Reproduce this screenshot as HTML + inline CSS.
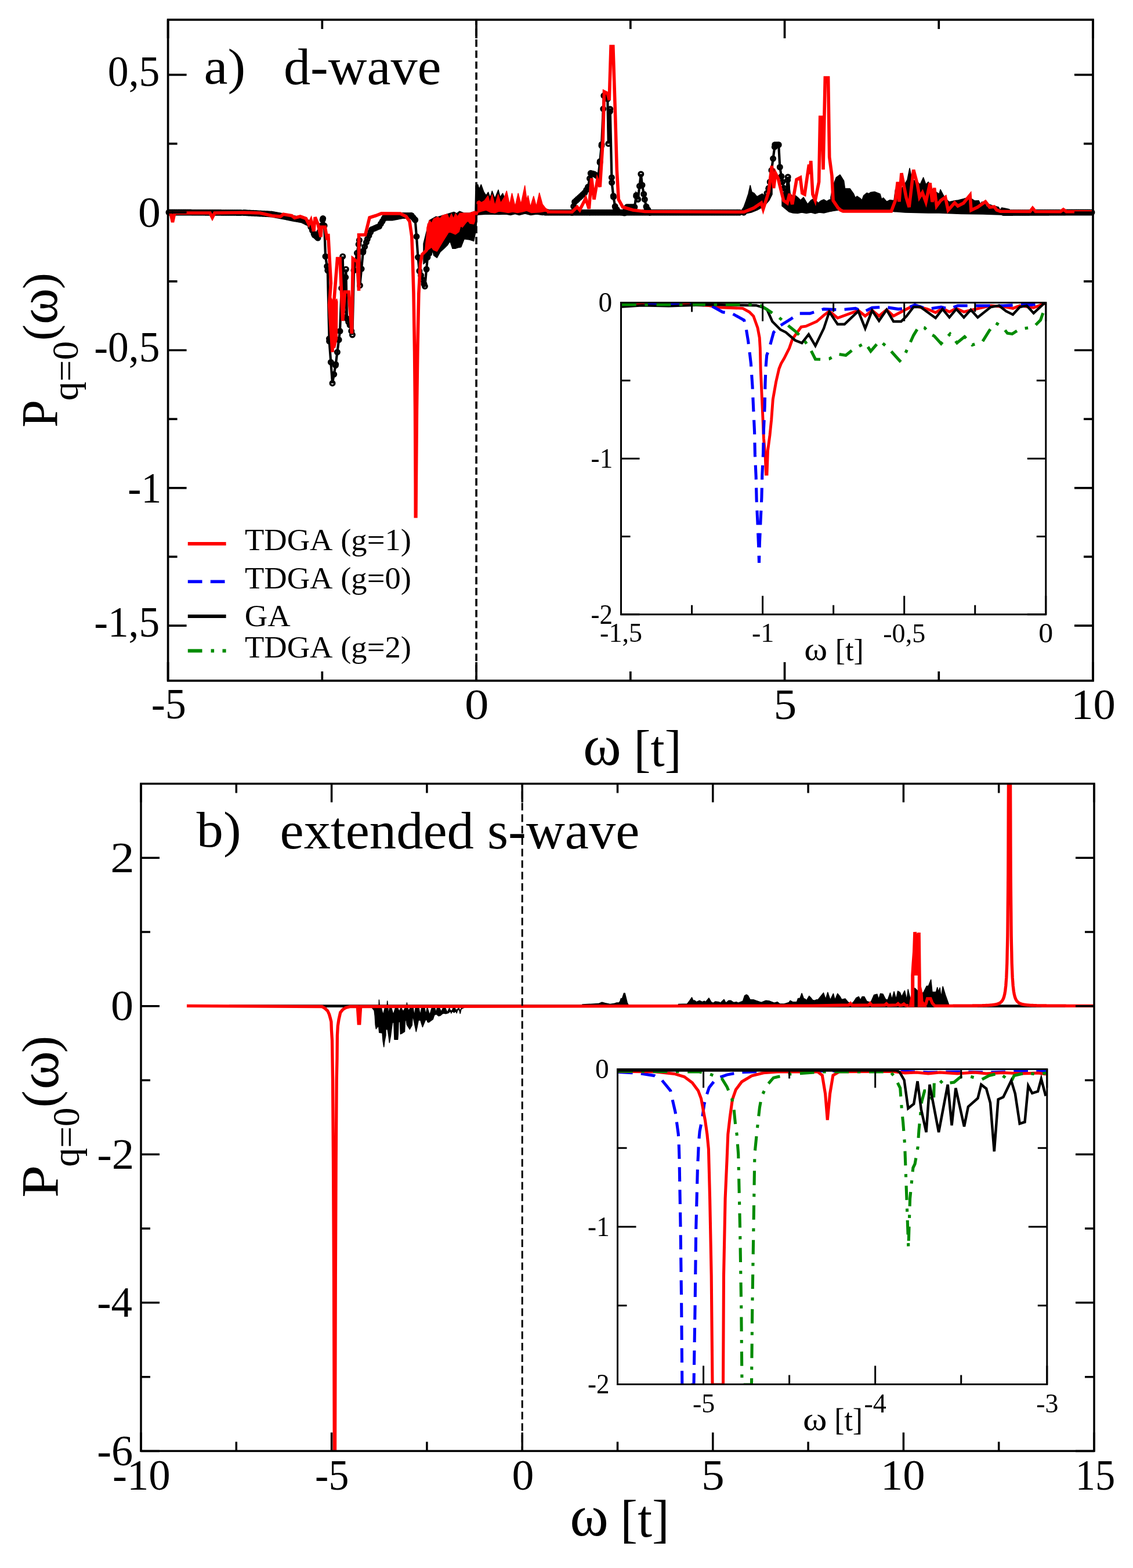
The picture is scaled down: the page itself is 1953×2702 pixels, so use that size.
<!DOCTYPE html>
<html><head><meta charset="utf-8"><title>plot</title>
<style>html,body{margin:0;padding:0;background:#fff;width:1953px;height:2702px;overflow:hidden}</style>
</head><body>
<svg width="1953" height="2702" viewBox="0 0 1953 2702" style="position:absolute;left:0;top:0;font-family:'Liberation Serif','Times New Roman',serif;font-kerning:none"><rect width="100%" height="100%" fill="#fff"/><polyline points="291.0,366.0 420.0,366.5 468.0,369.0 484.0,372.0 503.8,376.0 520.8,379.0 533.0,385.0 542.0,405.0 548.0,410.0 556.7,376.6 559.1,388.8 561.0,441.9 564.8,466.0 567.6,588.0 573.0,660.4 578.7,628.0 586.0,570.6 590.7,441.9 593.0,540.0 596.3,464.0 598.0,549.0 603.0,560.0 607.4,577.0 610.0,466.0 619.4,414.0 620.4,491.9 626.0,432.6 633.3,412.0 640.7,395.6 653.7,390.0 663.0,375.0 676.0,375.0 694.4,371.5 709.3,371.5 715.7,379.0 718.0,407.6 720.5,443.3 722.9,467.0 732.4,493.3 737.0,443.3 742.0,431.4" fill="none" stroke="#000000" stroke-width="4.2" stroke-linejoin="miter" stroke-miterlimit="4" /><polyline points="940.0,366.2 1282.0,366.2" fill="none" stroke="#000000" stroke-width="4.2" stroke-linejoin="miter" stroke-miterlimit="4" /><polyline points="1730.0,366.5 1882.0,366.0" fill="none" stroke="#000000" stroke-width="4.2" stroke-linejoin="miter" stroke-miterlimit="4" /><polyline points="986.0,366.5 990.6,348.0 1008.0,332.0 1013.8,322.0 1018.2,298.6 1024.0,300.0 1031.3,304.4 1034.2,278.2 1037.1,249.0 1040.8,164.8 1047.3,170.6 1048.8,247.7 1051.7,188.0 1054.6,314.6 1057.5,339.4 1060.4,356.8 1066.2,365.5 1076.4,367.0 1080.8,356.8 1093.9,356.8 1096.8,336.4 1099.7,343.7 1104.8,300.0 1107.0,319.0 1111.3,343.7 1114.2,356.8 1120.0,366.5" fill="none" stroke="#000000" stroke-width="4.2" stroke-linejoin="miter" stroke-miterlimit="4" /><polyline points="1322.0,333.0 1325.0,324.2 1327.2,313.5 1335.8,249.5 1342.2,249.5 1344.3,288.0 1348.6,313.5 1355.0,339.2 1358.2,305.0 1361.4,345.6 1367.8,360.5" fill="none" stroke="#000000" stroke-width="4.2" stroke-linejoin="miter" stroke-miterlimit="4" /><path d="M287.2 366.0a3.8 3.8 0 1 0 7.6 0a3.8 3.8 0 1 0 -7.6 0M289.9 366.0a3.8 3.8 0 1 0 7.6 0a3.8 3.8 0 1 0 -7.6 0M292.6 366.0a3.8 3.8 0 1 0 7.6 0a3.8 3.8 0 1 0 -7.6 0M295.3 366.0a3.8 3.8 0 1 0 7.6 0a3.8 3.8 0 1 0 -7.6 0M298.0 366.0a3.8 3.8 0 1 0 7.6 0a3.8 3.8 0 1 0 -7.6 0M300.7 366.1a3.8 3.8 0 1 0 7.6 0a3.8 3.8 0 1 0 -7.6 0M303.4 366.1a3.8 3.8 0 1 0 7.6 0a3.8 3.8 0 1 0 -7.6 0M306.1 366.1a3.8 3.8 0 1 0 7.6 0a3.8 3.8 0 1 0 -7.6 0M308.8 366.1a3.8 3.8 0 1 0 7.6 0a3.8 3.8 0 1 0 -7.6 0M311.5 366.1a3.8 3.8 0 1 0 7.6 0a3.8 3.8 0 1 0 -7.6 0M314.2 366.1a3.8 3.8 0 1 0 7.6 0a3.8 3.8 0 1 0 -7.6 0M316.9 366.1a3.8 3.8 0 1 0 7.6 0a3.8 3.8 0 1 0 -7.6 0M319.6 366.1a3.8 3.8 0 1 0 7.6 0a3.8 3.8 0 1 0 -7.6 0M322.3 366.1a3.8 3.8 0 1 0 7.6 0a3.8 3.8 0 1 0 -7.6 0M325.0 366.1a3.8 3.8 0 1 0 7.6 0a3.8 3.8 0 1 0 -7.6 0M327.7 366.2a3.8 3.8 0 1 0 7.6 0a3.8 3.8 0 1 0 -7.6 0M330.4 366.2a3.8 3.8 0 1 0 7.6 0a3.8 3.8 0 1 0 -7.6 0M333.1 366.2a3.8 3.8 0 1 0 7.6 0a3.8 3.8 0 1 0 -7.6 0M335.8 366.2a3.8 3.8 0 1 0 7.6 0a3.8 3.8 0 1 0 -7.6 0M338.5 366.2a3.8 3.8 0 1 0 7.6 0a3.8 3.8 0 1 0 -7.6 0M341.2 366.2a3.8 3.8 0 1 0 7.6 0a3.8 3.8 0 1 0 -7.6 0M343.9 366.2a3.8 3.8 0 1 0 7.6 0a3.8 3.8 0 1 0 -7.6 0M346.6 366.2a3.8 3.8 0 1 0 7.6 0a3.8 3.8 0 1 0 -7.6 0M349.3 366.2a3.8 3.8 0 1 0 7.6 0a3.8 3.8 0 1 0 -7.6 0M352.0 366.3a3.8 3.8 0 1 0 7.6 0a3.8 3.8 0 1 0 -7.6 0M354.7 366.3a3.8 3.8 0 1 0 7.6 0a3.8 3.8 0 1 0 -7.6 0M357.4 366.3a3.8 3.8 0 1 0 7.6 0a3.8 3.8 0 1 0 -7.6 0M360.1 366.3a3.8 3.8 0 1 0 7.6 0a3.8 3.8 0 1 0 -7.6 0M362.8 366.3a3.8 3.8 0 1 0 7.6 0a3.8 3.8 0 1 0 -7.6 0M365.5 366.3a3.8 3.8 0 1 0 7.6 0a3.8 3.8 0 1 0 -7.6 0M368.2 366.3a3.8 3.8 0 1 0 7.6 0a3.8 3.8 0 1 0 -7.6 0M370.9 366.3a3.8 3.8 0 1 0 7.6 0a3.8 3.8 0 1 0 -7.6 0M373.6 366.3a3.8 3.8 0 1 0 7.6 0a3.8 3.8 0 1 0 -7.6 0M376.3 366.3a3.8 3.8 0 1 0 7.6 0a3.8 3.8 0 1 0 -7.6 0M379.0 366.4a3.8 3.8 0 1 0 7.6 0a3.8 3.8 0 1 0 -7.6 0M381.7 366.4a3.8 3.8 0 1 0 7.6 0a3.8 3.8 0 1 0 -7.6 0M384.4 366.4a3.8 3.8 0 1 0 7.6 0a3.8 3.8 0 1 0 -7.6 0M387.1 366.4a3.8 3.8 0 1 0 7.6 0a3.8 3.8 0 1 0 -7.6 0M389.8 366.4a3.8 3.8 0 1 0 7.6 0a3.8 3.8 0 1 0 -7.6 0M392.5 366.4a3.8 3.8 0 1 0 7.6 0a3.8 3.8 0 1 0 -7.6 0M395.2 366.4a3.8 3.8 0 1 0 7.6 0a3.8 3.8 0 1 0 -7.6 0M397.9 366.4a3.8 3.8 0 1 0 7.6 0a3.8 3.8 0 1 0 -7.6 0M400.6 366.4a3.8 3.8 0 1 0 7.6 0a3.8 3.8 0 1 0 -7.6 0M403.3 366.4a3.8 3.8 0 1 0 7.6 0a3.8 3.8 0 1 0 -7.6 0M406.0 366.5a3.8 3.8 0 1 0 7.6 0a3.8 3.8 0 1 0 -7.6 0M408.7 366.5a3.8 3.8 0 1 0 7.6 0a3.8 3.8 0 1 0 -7.6 0M411.4 366.5a3.8 3.8 0 1 0 7.6 0a3.8 3.8 0 1 0 -7.6 0M416.2 366.5a3.8 3.8 0 1 0 7.6 0a3.8 3.8 0 1 0 -7.6 0M418.9 366.6a3.8 3.8 0 1 0 7.6 0a3.8 3.8 0 1 0 -7.6 0M421.6 366.8a3.8 3.8 0 1 0 7.6 0a3.8 3.8 0 1 0 -7.6 0M424.3 366.9a3.8 3.8 0 1 0 7.6 0a3.8 3.8 0 1 0 -7.6 0M427.0 367.1a3.8 3.8 0 1 0 7.6 0a3.8 3.8 0 1 0 -7.6 0M429.7 367.2a3.8 3.8 0 1 0 7.6 0a3.8 3.8 0 1 0 -7.6 0M432.4 367.3a3.8 3.8 0 1 0 7.6 0a3.8 3.8 0 1 0 -7.6 0M435.1 367.5a3.8 3.8 0 1 0 7.6 0a3.8 3.8 0 1 0 -7.6 0M437.8 367.6a3.8 3.8 0 1 0 7.6 0a3.8 3.8 0 1 0 -7.6 0M440.5 367.8a3.8 3.8 0 1 0 7.6 0a3.8 3.8 0 1 0 -7.6 0M443.2 367.9a3.8 3.8 0 1 0 7.6 0a3.8 3.8 0 1 0 -7.6 0M445.9 368.0a3.8 3.8 0 1 0 7.6 0a3.8 3.8 0 1 0 -7.6 0M448.6 368.2a3.8 3.8 0 1 0 7.6 0a3.8 3.8 0 1 0 -7.6 0M451.3 368.3a3.8 3.8 0 1 0 7.6 0a3.8 3.8 0 1 0 -7.6 0M454.0 368.5a3.8 3.8 0 1 0 7.6 0a3.8 3.8 0 1 0 -7.6 0M456.7 368.6a3.8 3.8 0 1 0 7.6 0a3.8 3.8 0 1 0 -7.6 0M459.4 368.8a3.8 3.8 0 1 0 7.6 0a3.8 3.8 0 1 0 -7.6 0M462.1 368.9a3.8 3.8 0 1 0 7.6 0a3.8 3.8 0 1 0 -7.6 0M464.2 369.0a3.8 3.8 0 1 0 7.6 0a3.8 3.8 0 1 0 -7.6 0M466.9 369.5a3.8 3.8 0 1 0 7.6 0a3.8 3.8 0 1 0 -7.6 0M469.6 370.0a3.8 3.8 0 1 0 7.6 0a3.8 3.8 0 1 0 -7.6 0M472.3 370.5a3.8 3.8 0 1 0 7.6 0a3.8 3.8 0 1 0 -7.6 0M475.0 371.0a3.8 3.8 0 1 0 7.6 0a3.8 3.8 0 1 0 -7.6 0M477.7 371.5a3.8 3.8 0 1 0 7.6 0a3.8 3.8 0 1 0 -7.6 0M480.2 372.0a3.8 3.8 0 1 0 7.6 0a3.8 3.8 0 1 0 -7.6 0M482.9 372.5a3.8 3.8 0 1 0 7.6 0a3.8 3.8 0 1 0 -7.6 0M485.6 373.1a3.8 3.8 0 1 0 7.6 0a3.8 3.8 0 1 0 -7.6 0M488.3 373.6a3.8 3.8 0 1 0 7.6 0a3.8 3.8 0 1 0 -7.6 0M491.0 374.2a3.8 3.8 0 1 0 7.6 0a3.8 3.8 0 1 0 -7.6 0M493.7 374.7a3.8 3.8 0 1 0 7.6 0a3.8 3.8 0 1 0 -7.6 0M496.4 375.3a3.8 3.8 0 1 0 7.6 0a3.8 3.8 0 1 0 -7.6 0M499.1 375.8a3.8 3.8 0 1 0 7.6 0a3.8 3.8 0 1 0 -7.6 0M500.0 376.0a3.8 3.8 0 1 0 7.6 0a3.8 3.8 0 1 0 -7.6 0M502.7 376.5a3.8 3.8 0 1 0 7.6 0a3.8 3.8 0 1 0 -7.6 0M505.4 377.0a3.8 3.8 0 1 0 7.6 0a3.8 3.8 0 1 0 -7.6 0M508.1 377.4a3.8 3.8 0 1 0 7.6 0a3.8 3.8 0 1 0 -7.6 0M510.8 377.9a3.8 3.8 0 1 0 7.6 0a3.8 3.8 0 1 0 -7.6 0M513.5 378.4a3.8 3.8 0 1 0 7.6 0a3.8 3.8 0 1 0 -7.6 0M516.2 378.9a3.8 3.8 0 1 0 7.6 0a3.8 3.8 0 1 0 -7.6 0M517.0 379.0a3.8 3.8 0 1 0 7.6 0a3.8 3.8 0 1 0 -7.6 0M519.7 380.3a3.8 3.8 0 1 0 7.6 0a3.8 3.8 0 1 0 -7.6 0M522.4 381.7a3.8 3.8 0 1 0 7.6 0a3.8 3.8 0 1 0 -7.6 0M525.1 383.0a3.8 3.8 0 1 0 7.6 0a3.8 3.8 0 1 0 -7.6 0M527.8 384.3a3.8 3.8 0 1 0 7.6 0a3.8 3.8 0 1 0 -7.6 0M529.2 385.0a3.8 3.8 0 1 0 7.6 0a3.8 3.8 0 1 0 -7.6 0M531.9 391.0a3.8 3.8 0 1 0 7.6 0a3.8 3.8 0 1 0 -7.6 0M534.6 397.0a3.8 3.8 0 1 0 7.6 0a3.8 3.8 0 1 0 -7.6 0M537.3 403.0a3.8 3.8 0 1 0 7.6 0a3.8 3.8 0 1 0 -7.6 0M538.2 405.0a3.8 3.8 0 1 0 7.6 0a3.8 3.8 0 1 0 -7.6 0M540.9 407.2a3.8 3.8 0 1 0 7.6 0a3.8 3.8 0 1 0 -7.6 0M543.6 409.5a3.8 3.8 0 1 0 7.6 0a3.8 3.8 0 1 0 -7.6 0M544.2 410.0a3.8 3.8 0 1 0 7.6 0a3.8 3.8 0 1 0 -7.6 0M546.9 399.6a3.8 3.8 0 1 0 7.6 0a3.8 3.8 0 1 0 -7.6 0M549.6 389.3a3.8 3.8 0 1 0 7.6 0a3.8 3.8 0 1 0 -7.6 0M552.3 378.9a3.8 3.8 0 1 0 7.6 0a3.8 3.8 0 1 0 -7.6 0M552.9 376.6a3.8 3.8 0 1 0 7.6 0a3.8 3.8 0 1 0 -7.6 0M555.3 388.8a3.8 3.8 0 1 0 7.6 0a3.8 3.8 0 1 0 -7.6 0M557.2 441.9a3.8 3.8 0 1 0 7.6 0a3.8 3.8 0 1 0 -7.6 0M559.9 459.0a3.8 3.8 0 1 0 7.6 0a3.8 3.8 0 1 0 -7.6 0M561.0 466.0a3.8 3.8 0 1 0 7.6 0a3.8 3.8 0 1 0 -7.6 0M563.7 583.6a3.8 3.8 0 1 0 7.6 0a3.8 3.8 0 1 0 -7.6 0M563.8 588.0a3.8 3.8 0 1 0 7.6 0a3.8 3.8 0 1 0 -7.6 0M566.5 624.2a3.8 3.8 0 1 0 7.6 0a3.8 3.8 0 1 0 -7.6 0M569.2 660.4a3.8 3.8 0 1 0 7.6 0a3.8 3.8 0 1 0 -7.6 0M571.9 645.1a3.8 3.8 0 1 0 7.6 0a3.8 3.8 0 1 0 -7.6 0M574.6 629.7a3.8 3.8 0 1 0 7.6 0a3.8 3.8 0 1 0 -7.6 0M574.9 628.0a3.8 3.8 0 1 0 7.6 0a3.8 3.8 0 1 0 -7.6 0M577.6 606.8a3.8 3.8 0 1 0 7.6 0a3.8 3.8 0 1 0 -7.6 0M580.3 585.5a3.8 3.8 0 1 0 7.6 0a3.8 3.8 0 1 0 -7.6 0M582.2 570.6a3.8 3.8 0 1 0 7.6 0a3.8 3.8 0 1 0 -7.6 0M584.9 496.7a3.8 3.8 0 1 0 7.6 0a3.8 3.8 0 1 0 -7.6 0M586.9 441.9a3.8 3.8 0 1 0 7.6 0a3.8 3.8 0 1 0 -7.6 0M589.2 540.0a3.8 3.8 0 1 0 7.6 0a3.8 3.8 0 1 0 -7.6 0M591.9 477.8a3.8 3.8 0 1 0 7.6 0a3.8 3.8 0 1 0 -7.6 0M592.5 464.0a3.8 3.8 0 1 0 7.6 0a3.8 3.8 0 1 0 -7.6 0M594.2 549.0a3.8 3.8 0 1 0 7.6 0a3.8 3.8 0 1 0 -7.6 0M596.9 554.9a3.8 3.8 0 1 0 7.6 0a3.8 3.8 0 1 0 -7.6 0M599.2 560.0a3.8 3.8 0 1 0 7.6 0a3.8 3.8 0 1 0 -7.6 0M601.9 570.4a3.8 3.8 0 1 0 7.6 0a3.8 3.8 0 1 0 -7.6 0M603.6 577.0a3.8 3.8 0 1 0 7.6 0a3.8 3.8 0 1 0 -7.6 0M606.2 466.0a3.8 3.8 0 1 0 7.6 0a3.8 3.8 0 1 0 -7.6 0M608.9 451.1a3.8 3.8 0 1 0 7.6 0a3.8 3.8 0 1 0 -7.6 0M611.6 436.1a3.8 3.8 0 1 0 7.6 0a3.8 3.8 0 1 0 -7.6 0M614.3 421.2a3.8 3.8 0 1 0 7.6 0a3.8 3.8 0 1 0 -7.6 0M615.6 414.0a3.8 3.8 0 1 0 7.6 0a3.8 3.8 0 1 0 -7.6 0M616.6 491.9a3.8 3.8 0 1 0 7.6 0a3.8 3.8 0 1 0 -7.6 0M619.3 463.3a3.8 3.8 0 1 0 7.6 0a3.8 3.8 0 1 0 -7.6 0M622.0 434.7a3.8 3.8 0 1 0 7.6 0a3.8 3.8 0 1 0 -7.6 0M622.2 432.6a3.8 3.8 0 1 0 7.6 0a3.8 3.8 0 1 0 -7.6 0M624.9 425.0a3.8 3.8 0 1 0 7.6 0a3.8 3.8 0 1 0 -7.6 0M627.6 417.4a3.8 3.8 0 1 0 7.6 0a3.8 3.8 0 1 0 -7.6 0M629.5 412.0a3.8 3.8 0 1 0 7.6 0a3.8 3.8 0 1 0 -7.6 0M632.2 406.0a3.8 3.8 0 1 0 7.6 0a3.8 3.8 0 1 0 -7.6 0M634.9 400.0a3.8 3.8 0 1 0 7.6 0a3.8 3.8 0 1 0 -7.6 0M636.9 395.6a3.8 3.8 0 1 0 7.6 0a3.8 3.8 0 1 0 -7.6 0M639.6 394.4a3.8 3.8 0 1 0 7.6 0a3.8 3.8 0 1 0 -7.6 0M642.3 393.3a3.8 3.8 0 1 0 7.6 0a3.8 3.8 0 1 0 -7.6 0M645.0 392.1a3.8 3.8 0 1 0 7.6 0a3.8 3.8 0 1 0 -7.6 0M647.7 390.9a3.8 3.8 0 1 0 7.6 0a3.8 3.8 0 1 0 -7.6 0M649.9 390.0a3.8 3.8 0 1 0 7.6 0a3.8 3.8 0 1 0 -7.6 0M652.6 385.6a3.8 3.8 0 1 0 7.6 0a3.8 3.8 0 1 0 -7.6 0M655.3 381.3a3.8 3.8 0 1 0 7.6 0a3.8 3.8 0 1 0 -7.6 0M658.0 376.9a3.8 3.8 0 1 0 7.6 0a3.8 3.8 0 1 0 -7.6 0M659.2 375.0a3.8 3.8 0 1 0 7.6 0a3.8 3.8 0 1 0 -7.6 0M661.9 375.0a3.8 3.8 0 1 0 7.6 0a3.8 3.8 0 1 0 -7.6 0M664.6 375.0a3.8 3.8 0 1 0 7.6 0a3.8 3.8 0 1 0 -7.6 0M667.3 375.0a3.8 3.8 0 1 0 7.6 0a3.8 3.8 0 1 0 -7.6 0M670.0 375.0a3.8 3.8 0 1 0 7.6 0a3.8 3.8 0 1 0 -7.6 0M672.2 375.0a3.8 3.8 0 1 0 7.6 0a3.8 3.8 0 1 0 -7.6 0M674.9 374.5a3.8 3.8 0 1 0 7.6 0a3.8 3.8 0 1 0 -7.6 0M677.6 374.0a3.8 3.8 0 1 0 7.6 0a3.8 3.8 0 1 0 -7.6 0M680.3 373.5a3.8 3.8 0 1 0 7.6 0a3.8 3.8 0 1 0 -7.6 0M683.0 372.9a3.8 3.8 0 1 0 7.6 0a3.8 3.8 0 1 0 -7.6 0M685.7 372.4a3.8 3.8 0 1 0 7.6 0a3.8 3.8 0 1 0 -7.6 0M688.4 371.9a3.8 3.8 0 1 0 7.6 0a3.8 3.8 0 1 0 -7.6 0M690.6 371.5a3.8 3.8 0 1 0 7.6 0a3.8 3.8 0 1 0 -7.6 0M693.3 371.5a3.8 3.8 0 1 0 7.6 0a3.8 3.8 0 1 0 -7.6 0M696.0 371.5a3.8 3.8 0 1 0 7.6 0a3.8 3.8 0 1 0 -7.6 0M698.7 371.5a3.8 3.8 0 1 0 7.6 0a3.8 3.8 0 1 0 -7.6 0M701.4 371.5a3.8 3.8 0 1 0 7.6 0a3.8 3.8 0 1 0 -7.6 0M704.1 371.5a3.8 3.8 0 1 0 7.6 0a3.8 3.8 0 1 0 -7.6 0M705.5 371.5a3.8 3.8 0 1 0 7.6 0a3.8 3.8 0 1 0 -7.6 0M708.2 374.7a3.8 3.8 0 1 0 7.6 0a3.8 3.8 0 1 0 -7.6 0M710.9 377.8a3.8 3.8 0 1 0 7.6 0a3.8 3.8 0 1 0 -7.6 0M711.9 379.0a3.8 3.8 0 1 0 7.6 0a3.8 3.8 0 1 0 -7.6 0M714.2 407.6a3.8 3.8 0 1 0 7.6 0a3.8 3.8 0 1 0 -7.6 0M716.7 443.3a3.8 3.8 0 1 0 7.6 0a3.8 3.8 0 1 0 -7.6 0M719.1 467.0a3.8 3.8 0 1 0 7.6 0a3.8 3.8 0 1 0 -7.6 0M721.8 474.5a3.8 3.8 0 1 0 7.6 0a3.8 3.8 0 1 0 -7.6 0M724.5 481.9a3.8 3.8 0 1 0 7.6 0a3.8 3.8 0 1 0 -7.6 0M727.2 489.4a3.8 3.8 0 1 0 7.6 0a3.8 3.8 0 1 0 -7.6 0M728.6 493.3a3.8 3.8 0 1 0 7.6 0a3.8 3.8 0 1 0 -7.6 0M731.3 464.0a3.8 3.8 0 1 0 7.6 0a3.8 3.8 0 1 0 -7.6 0M733.2 443.3a3.8 3.8 0 1 0 7.6 0a3.8 3.8 0 1 0 -7.6 0M735.9 436.9a3.8 3.8 0 1 0 7.6 0a3.8 3.8 0 1 0 -7.6 0M738.2 431.4a3.8 3.8 0 1 0 7.6 0a3.8 3.8 0 1 0 -7.6 0M936.2 366.2a3.8 3.8 0 1 0 7.6 0a3.8 3.8 0 1 0 -7.6 0M938.9 366.2a3.8 3.8 0 1 0 7.6 0a3.8 3.8 0 1 0 -7.6 0M941.6 366.2a3.8 3.8 0 1 0 7.6 0a3.8 3.8 0 1 0 -7.6 0M944.3 366.2a3.8 3.8 0 1 0 7.6 0a3.8 3.8 0 1 0 -7.6 0M947.0 366.2a3.8 3.8 0 1 0 7.6 0a3.8 3.8 0 1 0 -7.6 0M949.7 366.2a3.8 3.8 0 1 0 7.6 0a3.8 3.8 0 1 0 -7.6 0M952.4 366.2a3.8 3.8 0 1 0 7.6 0a3.8 3.8 0 1 0 -7.6 0M955.1 366.2a3.8 3.8 0 1 0 7.6 0a3.8 3.8 0 1 0 -7.6 0M957.8 366.2a3.8 3.8 0 1 0 7.6 0a3.8 3.8 0 1 0 -7.6 0M960.5 366.2a3.8 3.8 0 1 0 7.6 0a3.8 3.8 0 1 0 -7.6 0M963.2 366.2a3.8 3.8 0 1 0 7.6 0a3.8 3.8 0 1 0 -7.6 0M965.9 366.2a3.8 3.8 0 1 0 7.6 0a3.8 3.8 0 1 0 -7.6 0M968.6 366.2a3.8 3.8 0 1 0 7.6 0a3.8 3.8 0 1 0 -7.6 0M971.3 366.2a3.8 3.8 0 1 0 7.6 0a3.8 3.8 0 1 0 -7.6 0M974.0 366.2a3.8 3.8 0 1 0 7.6 0a3.8 3.8 0 1 0 -7.6 0M976.7 366.2a3.8 3.8 0 1 0 7.6 0a3.8 3.8 0 1 0 -7.6 0M979.4 366.2a3.8 3.8 0 1 0 7.6 0a3.8 3.8 0 1 0 -7.6 0M982.1 366.2a3.8 3.8 0 1 0 7.6 0a3.8 3.8 0 1 0 -7.6 0M984.8 366.2a3.8 3.8 0 1 0 7.6 0a3.8 3.8 0 1 0 -7.6 0M987.5 366.2a3.8 3.8 0 1 0 7.6 0a3.8 3.8 0 1 0 -7.6 0M990.2 366.2a3.8 3.8 0 1 0 7.6 0a3.8 3.8 0 1 0 -7.6 0M992.9 366.2a3.8 3.8 0 1 0 7.6 0a3.8 3.8 0 1 0 -7.6 0M995.6 366.2a3.8 3.8 0 1 0 7.6 0a3.8 3.8 0 1 0 -7.6 0M998.3 366.2a3.8 3.8 0 1 0 7.6 0a3.8 3.8 0 1 0 -7.6 0M1001.0 366.2a3.8 3.8 0 1 0 7.6 0a3.8 3.8 0 1 0 -7.6 0M1003.7 366.2a3.8 3.8 0 1 0 7.6 0a3.8 3.8 0 1 0 -7.6 0M1006.4 366.2a3.8 3.8 0 1 0 7.6 0a3.8 3.8 0 1 0 -7.6 0M1009.1 366.2a3.8 3.8 0 1 0 7.6 0a3.8 3.8 0 1 0 -7.6 0M1011.8 366.2a3.8 3.8 0 1 0 7.6 0a3.8 3.8 0 1 0 -7.6 0M1014.5 366.2a3.8 3.8 0 1 0 7.6 0a3.8 3.8 0 1 0 -7.6 0M1017.2 366.2a3.8 3.8 0 1 0 7.6 0a3.8 3.8 0 1 0 -7.6 0M1019.9 366.2a3.8 3.8 0 1 0 7.6 0a3.8 3.8 0 1 0 -7.6 0M1022.6 366.2a3.8 3.8 0 1 0 7.6 0a3.8 3.8 0 1 0 -7.6 0M1025.3 366.2a3.8 3.8 0 1 0 7.6 0a3.8 3.8 0 1 0 -7.6 0M1028.0 366.2a3.8 3.8 0 1 0 7.6 0a3.8 3.8 0 1 0 -7.6 0M1030.7 366.2a3.8 3.8 0 1 0 7.6 0a3.8 3.8 0 1 0 -7.6 0M1033.4 366.2a3.8 3.8 0 1 0 7.6 0a3.8 3.8 0 1 0 -7.6 0M1036.1 366.2a3.8 3.8 0 1 0 7.6 0a3.8 3.8 0 1 0 -7.6 0M1038.8 366.2a3.8 3.8 0 1 0 7.6 0a3.8 3.8 0 1 0 -7.6 0M1041.5 366.2a3.8 3.8 0 1 0 7.6 0a3.8 3.8 0 1 0 -7.6 0M1044.2 366.2a3.8 3.8 0 1 0 7.6 0a3.8 3.8 0 1 0 -7.6 0M1046.9 366.2a3.8 3.8 0 1 0 7.6 0a3.8 3.8 0 1 0 -7.6 0M1049.6 366.2a3.8 3.8 0 1 0 7.6 0a3.8 3.8 0 1 0 -7.6 0M1052.3 366.2a3.8 3.8 0 1 0 7.6 0a3.8 3.8 0 1 0 -7.6 0M1055.0 366.2a3.8 3.8 0 1 0 7.6 0a3.8 3.8 0 1 0 -7.6 0M1057.7 366.2a3.8 3.8 0 1 0 7.6 0a3.8 3.8 0 1 0 -7.6 0M1060.4 366.2a3.8 3.8 0 1 0 7.6 0a3.8 3.8 0 1 0 -7.6 0M1063.1 366.2a3.8 3.8 0 1 0 7.6 0a3.8 3.8 0 1 0 -7.6 0M1065.8 366.2a3.8 3.8 0 1 0 7.6 0a3.8 3.8 0 1 0 -7.6 0M1068.5 366.2a3.8 3.8 0 1 0 7.6 0a3.8 3.8 0 1 0 -7.6 0M1071.2 366.2a3.8 3.8 0 1 0 7.6 0a3.8 3.8 0 1 0 -7.6 0M1073.9 366.2a3.8 3.8 0 1 0 7.6 0a3.8 3.8 0 1 0 -7.6 0M1076.6 366.2a3.8 3.8 0 1 0 7.6 0a3.8 3.8 0 1 0 -7.6 0M1079.3 366.2a3.8 3.8 0 1 0 7.6 0a3.8 3.8 0 1 0 -7.6 0M1082.0 366.2a3.8 3.8 0 1 0 7.6 0a3.8 3.8 0 1 0 -7.6 0M1084.7 366.2a3.8 3.8 0 1 0 7.6 0a3.8 3.8 0 1 0 -7.6 0M1087.4 366.2a3.8 3.8 0 1 0 7.6 0a3.8 3.8 0 1 0 -7.6 0M1090.1 366.2a3.8 3.8 0 1 0 7.6 0a3.8 3.8 0 1 0 -7.6 0M1092.8 366.2a3.8 3.8 0 1 0 7.6 0a3.8 3.8 0 1 0 -7.6 0M1095.5 366.2a3.8 3.8 0 1 0 7.6 0a3.8 3.8 0 1 0 -7.6 0M1098.2 366.2a3.8 3.8 0 1 0 7.6 0a3.8 3.8 0 1 0 -7.6 0M1100.9 366.2a3.8 3.8 0 1 0 7.6 0a3.8 3.8 0 1 0 -7.6 0M1103.6 366.2a3.8 3.8 0 1 0 7.6 0a3.8 3.8 0 1 0 -7.6 0M1106.3 366.2a3.8 3.8 0 1 0 7.6 0a3.8 3.8 0 1 0 -7.6 0M1109.0 366.2a3.8 3.8 0 1 0 7.6 0a3.8 3.8 0 1 0 -7.6 0M1111.7 366.2a3.8 3.8 0 1 0 7.6 0a3.8 3.8 0 1 0 -7.6 0M1114.4 366.2a3.8 3.8 0 1 0 7.6 0a3.8 3.8 0 1 0 -7.6 0M1117.1 366.2a3.8 3.8 0 1 0 7.6 0a3.8 3.8 0 1 0 -7.6 0M1119.8 366.2a3.8 3.8 0 1 0 7.6 0a3.8 3.8 0 1 0 -7.6 0M1122.5 366.2a3.8 3.8 0 1 0 7.6 0a3.8 3.8 0 1 0 -7.6 0M1125.2 366.2a3.8 3.8 0 1 0 7.6 0a3.8 3.8 0 1 0 -7.6 0M1127.9 366.2a3.8 3.8 0 1 0 7.6 0a3.8 3.8 0 1 0 -7.6 0M1130.6 366.2a3.8 3.8 0 1 0 7.6 0a3.8 3.8 0 1 0 -7.6 0M1133.3 366.2a3.8 3.8 0 1 0 7.6 0a3.8 3.8 0 1 0 -7.6 0M1136.0 366.2a3.8 3.8 0 1 0 7.6 0a3.8 3.8 0 1 0 -7.6 0M1138.7 366.2a3.8 3.8 0 1 0 7.6 0a3.8 3.8 0 1 0 -7.6 0M1141.4 366.2a3.8 3.8 0 1 0 7.6 0a3.8 3.8 0 1 0 -7.6 0M1144.1 366.2a3.8 3.8 0 1 0 7.6 0a3.8 3.8 0 1 0 -7.6 0M1146.8 366.2a3.8 3.8 0 1 0 7.6 0a3.8 3.8 0 1 0 -7.6 0M1149.5 366.2a3.8 3.8 0 1 0 7.6 0a3.8 3.8 0 1 0 -7.6 0M1152.2 366.2a3.8 3.8 0 1 0 7.6 0a3.8 3.8 0 1 0 -7.6 0M1154.9 366.2a3.8 3.8 0 1 0 7.6 0a3.8 3.8 0 1 0 -7.6 0M1157.6 366.2a3.8 3.8 0 1 0 7.6 0a3.8 3.8 0 1 0 -7.6 0M1160.3 366.2a3.8 3.8 0 1 0 7.6 0a3.8 3.8 0 1 0 -7.6 0M1163.0 366.2a3.8 3.8 0 1 0 7.6 0a3.8 3.8 0 1 0 -7.6 0M1165.7 366.2a3.8 3.8 0 1 0 7.6 0a3.8 3.8 0 1 0 -7.6 0M1168.4 366.2a3.8 3.8 0 1 0 7.6 0a3.8 3.8 0 1 0 -7.6 0M1171.1 366.2a3.8 3.8 0 1 0 7.6 0a3.8 3.8 0 1 0 -7.6 0M1173.8 366.2a3.8 3.8 0 1 0 7.6 0a3.8 3.8 0 1 0 -7.6 0M1176.5 366.2a3.8 3.8 0 1 0 7.6 0a3.8 3.8 0 1 0 -7.6 0M1179.2 366.2a3.8 3.8 0 1 0 7.6 0a3.8 3.8 0 1 0 -7.6 0M1181.9 366.2a3.8 3.8 0 1 0 7.6 0a3.8 3.8 0 1 0 -7.6 0M1184.6 366.2a3.8 3.8 0 1 0 7.6 0a3.8 3.8 0 1 0 -7.6 0M1187.3 366.2a3.8 3.8 0 1 0 7.6 0a3.8 3.8 0 1 0 -7.6 0M1190.0 366.2a3.8 3.8 0 1 0 7.6 0a3.8 3.8 0 1 0 -7.6 0M1192.7 366.2a3.8 3.8 0 1 0 7.6 0a3.8 3.8 0 1 0 -7.6 0M1195.4 366.2a3.8 3.8 0 1 0 7.6 0a3.8 3.8 0 1 0 -7.6 0M1198.1 366.2a3.8 3.8 0 1 0 7.6 0a3.8 3.8 0 1 0 -7.6 0M1200.8 366.2a3.8 3.8 0 1 0 7.6 0a3.8 3.8 0 1 0 -7.6 0M1203.5 366.2a3.8 3.8 0 1 0 7.6 0a3.8 3.8 0 1 0 -7.6 0M1206.2 366.2a3.8 3.8 0 1 0 7.6 0a3.8 3.8 0 1 0 -7.6 0M1208.9 366.2a3.8 3.8 0 1 0 7.6 0a3.8 3.8 0 1 0 -7.6 0M1211.6 366.2a3.8 3.8 0 1 0 7.6 0a3.8 3.8 0 1 0 -7.6 0M1214.3 366.2a3.8 3.8 0 1 0 7.6 0a3.8 3.8 0 1 0 -7.6 0M1217.0 366.2a3.8 3.8 0 1 0 7.6 0a3.8 3.8 0 1 0 -7.6 0M1219.7 366.2a3.8 3.8 0 1 0 7.6 0a3.8 3.8 0 1 0 -7.6 0M1222.4 366.2a3.8 3.8 0 1 0 7.6 0a3.8 3.8 0 1 0 -7.6 0M1225.1 366.2a3.8 3.8 0 1 0 7.6 0a3.8 3.8 0 1 0 -7.6 0M1227.8 366.2a3.8 3.8 0 1 0 7.6 0a3.8 3.8 0 1 0 -7.6 0M1230.5 366.2a3.8 3.8 0 1 0 7.6 0a3.8 3.8 0 1 0 -7.6 0M1233.2 366.2a3.8 3.8 0 1 0 7.6 0a3.8 3.8 0 1 0 -7.6 0M1235.9 366.2a3.8 3.8 0 1 0 7.6 0a3.8 3.8 0 1 0 -7.6 0M1238.6 366.2a3.8 3.8 0 1 0 7.6 0a3.8 3.8 0 1 0 -7.6 0M1241.3 366.2a3.8 3.8 0 1 0 7.6 0a3.8 3.8 0 1 0 -7.6 0M1244.0 366.2a3.8 3.8 0 1 0 7.6 0a3.8 3.8 0 1 0 -7.6 0M1246.7 366.2a3.8 3.8 0 1 0 7.6 0a3.8 3.8 0 1 0 -7.6 0M1249.4 366.2a3.8 3.8 0 1 0 7.6 0a3.8 3.8 0 1 0 -7.6 0M1252.1 366.2a3.8 3.8 0 1 0 7.6 0a3.8 3.8 0 1 0 -7.6 0M1254.8 366.2a3.8 3.8 0 1 0 7.6 0a3.8 3.8 0 1 0 -7.6 0M1257.5 366.2a3.8 3.8 0 1 0 7.6 0a3.8 3.8 0 1 0 -7.6 0M1260.2 366.2a3.8 3.8 0 1 0 7.6 0a3.8 3.8 0 1 0 -7.6 0M1262.9 366.2a3.8 3.8 0 1 0 7.6 0a3.8 3.8 0 1 0 -7.6 0M1265.6 366.2a3.8 3.8 0 1 0 7.6 0a3.8 3.8 0 1 0 -7.6 0M1268.3 366.2a3.8 3.8 0 1 0 7.6 0a3.8 3.8 0 1 0 -7.6 0M1271.0 366.2a3.8 3.8 0 1 0 7.6 0a3.8 3.8 0 1 0 -7.6 0M1278.2 366.2a3.8 3.8 0 1 0 7.6 0a3.8 3.8 0 1 0 -7.6 0M1726.2 366.5a3.8 3.8 0 1 0 7.6 0a3.8 3.8 0 1 0 -7.6 0M1728.9 366.5a3.8 3.8 0 1 0 7.6 0a3.8 3.8 0 1 0 -7.6 0M1731.6 366.5a3.8 3.8 0 1 0 7.6 0a3.8 3.8 0 1 0 -7.6 0M1734.3 366.5a3.8 3.8 0 1 0 7.6 0a3.8 3.8 0 1 0 -7.6 0M1737.0 366.5a3.8 3.8 0 1 0 7.6 0a3.8 3.8 0 1 0 -7.6 0M1739.7 366.5a3.8 3.8 0 1 0 7.6 0a3.8 3.8 0 1 0 -7.6 0M1742.4 366.4a3.8 3.8 0 1 0 7.6 0a3.8 3.8 0 1 0 -7.6 0M1745.1 366.4a3.8 3.8 0 1 0 7.6 0a3.8 3.8 0 1 0 -7.6 0M1747.8 366.4a3.8 3.8 0 1 0 7.6 0a3.8 3.8 0 1 0 -7.6 0M1750.5 366.4a3.8 3.8 0 1 0 7.6 0a3.8 3.8 0 1 0 -7.6 0M1753.2 366.4a3.8 3.8 0 1 0 7.6 0a3.8 3.8 0 1 0 -7.6 0M1755.9 366.4a3.8 3.8 0 1 0 7.6 0a3.8 3.8 0 1 0 -7.6 0M1758.6 366.4a3.8 3.8 0 1 0 7.6 0a3.8 3.8 0 1 0 -7.6 0M1761.3 366.4a3.8 3.8 0 1 0 7.6 0a3.8 3.8 0 1 0 -7.6 0M1764.0 366.4a3.8 3.8 0 1 0 7.6 0a3.8 3.8 0 1 0 -7.6 0M1766.7 366.4a3.8 3.8 0 1 0 7.6 0a3.8 3.8 0 1 0 -7.6 0M1769.4 366.4a3.8 3.8 0 1 0 7.6 0a3.8 3.8 0 1 0 -7.6 0M1772.1 366.3a3.8 3.8 0 1 0 7.6 0a3.8 3.8 0 1 0 -7.6 0M1774.8 366.3a3.8 3.8 0 1 0 7.6 0a3.8 3.8 0 1 0 -7.6 0M1777.5 366.3a3.8 3.8 0 1 0 7.6 0a3.8 3.8 0 1 0 -7.6 0M1780.2 366.3a3.8 3.8 0 1 0 7.6 0a3.8 3.8 0 1 0 -7.6 0M1782.9 366.3a3.8 3.8 0 1 0 7.6 0a3.8 3.8 0 1 0 -7.6 0M1785.6 366.3a3.8 3.8 0 1 0 7.6 0a3.8 3.8 0 1 0 -7.6 0M1788.3 366.3a3.8 3.8 0 1 0 7.6 0a3.8 3.8 0 1 0 -7.6 0M1791.0 366.3a3.8 3.8 0 1 0 7.6 0a3.8 3.8 0 1 0 -7.6 0M1793.7 366.3a3.8 3.8 0 1 0 7.6 0a3.8 3.8 0 1 0 -7.6 0M1796.4 366.3a3.8 3.8 0 1 0 7.6 0a3.8 3.8 0 1 0 -7.6 0M1799.1 366.3a3.8 3.8 0 1 0 7.6 0a3.8 3.8 0 1 0 -7.6 0M1801.8 366.3a3.8 3.8 0 1 0 7.6 0a3.8 3.8 0 1 0 -7.6 0M1804.5 366.2a3.8 3.8 0 1 0 7.6 0a3.8 3.8 0 1 0 -7.6 0M1807.2 366.2a3.8 3.8 0 1 0 7.6 0a3.8 3.8 0 1 0 -7.6 0M1809.9 366.2a3.8 3.8 0 1 0 7.6 0a3.8 3.8 0 1 0 -7.6 0M1812.6 366.2a3.8 3.8 0 1 0 7.6 0a3.8 3.8 0 1 0 -7.6 0M1815.3 366.2a3.8 3.8 0 1 0 7.6 0a3.8 3.8 0 1 0 -7.6 0M1818.0 366.2a3.8 3.8 0 1 0 7.6 0a3.8 3.8 0 1 0 -7.6 0M1820.7 366.2a3.8 3.8 0 1 0 7.6 0a3.8 3.8 0 1 0 -7.6 0M1823.4 366.2a3.8 3.8 0 1 0 7.6 0a3.8 3.8 0 1 0 -7.6 0M1826.1 366.2a3.8 3.8 0 1 0 7.6 0a3.8 3.8 0 1 0 -7.6 0M1828.8 366.2a3.8 3.8 0 1 0 7.6 0a3.8 3.8 0 1 0 -7.6 0M1831.5 366.2a3.8 3.8 0 1 0 7.6 0a3.8 3.8 0 1 0 -7.6 0M1834.2 366.1a3.8 3.8 0 1 0 7.6 0a3.8 3.8 0 1 0 -7.6 0M1836.9 366.1a3.8 3.8 0 1 0 7.6 0a3.8 3.8 0 1 0 -7.6 0M1839.6 366.1a3.8 3.8 0 1 0 7.6 0a3.8 3.8 0 1 0 -7.6 0M1842.3 366.1a3.8 3.8 0 1 0 7.6 0a3.8 3.8 0 1 0 -7.6 0M1845.0 366.1a3.8 3.8 0 1 0 7.6 0a3.8 3.8 0 1 0 -7.6 0M1847.7 366.1a3.8 3.8 0 1 0 7.6 0a3.8 3.8 0 1 0 -7.6 0M1850.4 366.1a3.8 3.8 0 1 0 7.6 0a3.8 3.8 0 1 0 -7.6 0M1853.1 366.1a3.8 3.8 0 1 0 7.6 0a3.8 3.8 0 1 0 -7.6 0M1855.8 366.1a3.8 3.8 0 1 0 7.6 0a3.8 3.8 0 1 0 -7.6 0M1858.5 366.1a3.8 3.8 0 1 0 7.6 0a3.8 3.8 0 1 0 -7.6 0M1861.2 366.1a3.8 3.8 0 1 0 7.6 0a3.8 3.8 0 1 0 -7.6 0M1863.9 366.0a3.8 3.8 0 1 0 7.6 0a3.8 3.8 0 1 0 -7.6 0M1866.6 366.0a3.8 3.8 0 1 0 7.6 0a3.8 3.8 0 1 0 -7.6 0M1869.3 366.0a3.8 3.8 0 1 0 7.6 0a3.8 3.8 0 1 0 -7.6 0M1872.0 366.0a3.8 3.8 0 1 0 7.6 0a3.8 3.8 0 1 0 -7.6 0M1874.7 366.0a3.8 3.8 0 1 0 7.6 0a3.8 3.8 0 1 0 -7.6 0M1878.2 366.0a3.8 3.8 0 1 0 7.6 0a3.8 3.8 0 1 0 -7.6 0M982.2 366.5a3.8 3.8 0 1 0 7.6 0a3.8 3.8 0 1 0 -7.6 0M984.9 355.6a3.8 3.8 0 1 0 7.6 0a3.8 3.8 0 1 0 -7.6 0M986.8 348.0a3.8 3.8 0 1 0 7.6 0a3.8 3.8 0 1 0 -7.6 0M989.5 345.5a3.8 3.8 0 1 0 7.6 0a3.8 3.8 0 1 0 -7.6 0M992.2 343.0a3.8 3.8 0 1 0 7.6 0a3.8 3.8 0 1 0 -7.6 0M994.9 340.6a3.8 3.8 0 1 0 7.6 0a3.8 3.8 0 1 0 -7.6 0M997.6 338.1a3.8 3.8 0 1 0 7.6 0a3.8 3.8 0 1 0 -7.6 0M1000.3 335.6a3.8 3.8 0 1 0 7.6 0a3.8 3.8 0 1 0 -7.6 0M1003.0 333.1a3.8 3.8 0 1 0 7.6 0a3.8 3.8 0 1 0 -7.6 0M1004.2 332.0a3.8 3.8 0 1 0 7.6 0a3.8 3.8 0 1 0 -7.6 0M1006.9 327.3a3.8 3.8 0 1 0 7.6 0a3.8 3.8 0 1 0 -7.6 0M1009.6 322.7a3.8 3.8 0 1 0 7.6 0a3.8 3.8 0 1 0 -7.6 0M1010.0 322.0a3.8 3.8 0 1 0 7.6 0a3.8 3.8 0 1 0 -7.6 0M1012.7 307.6a3.8 3.8 0 1 0 7.6 0a3.8 3.8 0 1 0 -7.6 0M1014.4 298.6a3.8 3.8 0 1 0 7.6 0a3.8 3.8 0 1 0 -7.6 0M1017.1 299.3a3.8 3.8 0 1 0 7.6 0a3.8 3.8 0 1 0 -7.6 0M1019.8 299.9a3.8 3.8 0 1 0 7.6 0a3.8 3.8 0 1 0 -7.6 0M1020.2 300.0a3.8 3.8 0 1 0 7.6 0a3.8 3.8 0 1 0 -7.6 0M1022.9 301.6a3.8 3.8 0 1 0 7.6 0a3.8 3.8 0 1 0 -7.6 0M1025.6 303.3a3.8 3.8 0 1 0 7.6 0a3.8 3.8 0 1 0 -7.6 0M1027.5 304.4a3.8 3.8 0 1 0 7.6 0a3.8 3.8 0 1 0 -7.6 0M1030.2 280.0a3.8 3.8 0 1 0 7.6 0a3.8 3.8 0 1 0 -7.6 0M1030.4 278.2a3.8 3.8 0 1 0 7.6 0a3.8 3.8 0 1 0 -7.6 0M1033.1 251.0a3.8 3.8 0 1 0 7.6 0a3.8 3.8 0 1 0 -7.6 0M1033.3 249.0a3.8 3.8 0 1 0 7.6 0a3.8 3.8 0 1 0 -7.6 0M1036.0 187.6a3.8 3.8 0 1 0 7.6 0a3.8 3.8 0 1 0 -7.6 0M1037.0 164.8a3.8 3.8 0 1 0 7.6 0a3.8 3.8 0 1 0 -7.6 0M1039.7 167.2a3.8 3.8 0 1 0 7.6 0a3.8 3.8 0 1 0 -7.6 0M1042.4 169.6a3.8 3.8 0 1 0 7.6 0a3.8 3.8 0 1 0 -7.6 0M1043.5 170.6a3.8 3.8 0 1 0 7.6 0a3.8 3.8 0 1 0 -7.6 0M1045.0 247.7a3.8 3.8 0 1 0 7.6 0a3.8 3.8 0 1 0 -7.6 0M1047.7 192.1a3.8 3.8 0 1 0 7.6 0a3.8 3.8 0 1 0 -7.6 0M1047.9 188.0a3.8 3.8 0 1 0 7.6 0a3.8 3.8 0 1 0 -7.6 0M1050.6 305.9a3.8 3.8 0 1 0 7.6 0a3.8 3.8 0 1 0 -7.6 0M1050.8 314.6a3.8 3.8 0 1 0 7.6 0a3.8 3.8 0 1 0 -7.6 0M1053.5 337.7a3.8 3.8 0 1 0 7.6 0a3.8 3.8 0 1 0 -7.6 0M1053.7 339.4a3.8 3.8 0 1 0 7.6 0a3.8 3.8 0 1 0 -7.6 0M1056.4 355.6a3.8 3.8 0 1 0 7.6 0a3.8 3.8 0 1 0 -7.6 0M1056.6 356.8a3.8 3.8 0 1 0 7.6 0a3.8 3.8 0 1 0 -7.6 0M1059.3 360.9a3.8 3.8 0 1 0 7.6 0a3.8 3.8 0 1 0 -7.6 0M1062.0 364.9a3.8 3.8 0 1 0 7.6 0a3.8 3.8 0 1 0 -7.6 0M1062.4 365.5a3.8 3.8 0 1 0 7.6 0a3.8 3.8 0 1 0 -7.6 0M1065.1 365.9a3.8 3.8 0 1 0 7.6 0a3.8 3.8 0 1 0 -7.6 0M1067.8 366.3a3.8 3.8 0 1 0 7.6 0a3.8 3.8 0 1 0 -7.6 0M1070.5 366.7a3.8 3.8 0 1 0 7.6 0a3.8 3.8 0 1 0 -7.6 0M1072.6 367.0a3.8 3.8 0 1 0 7.6 0a3.8 3.8 0 1 0 -7.6 0M1075.3 360.7a3.8 3.8 0 1 0 7.6 0a3.8 3.8 0 1 0 -7.6 0M1077.0 356.8a3.8 3.8 0 1 0 7.6 0a3.8 3.8 0 1 0 -7.6 0M1079.7 356.8a3.8 3.8 0 1 0 7.6 0a3.8 3.8 0 1 0 -7.6 0M1082.4 356.8a3.8 3.8 0 1 0 7.6 0a3.8 3.8 0 1 0 -7.6 0M1085.1 356.8a3.8 3.8 0 1 0 7.6 0a3.8 3.8 0 1 0 -7.6 0M1087.8 356.8a3.8 3.8 0 1 0 7.6 0a3.8 3.8 0 1 0 -7.6 0M1090.1 356.8a3.8 3.8 0 1 0 7.6 0a3.8 3.8 0 1 0 -7.6 0M1092.8 337.8a3.8 3.8 0 1 0 7.6 0a3.8 3.8 0 1 0 -7.6 0M1093.0 336.4a3.8 3.8 0 1 0 7.6 0a3.8 3.8 0 1 0 -7.6 0M1095.7 343.2a3.8 3.8 0 1 0 7.6 0a3.8 3.8 0 1 0 -7.6 0M1095.9 343.7a3.8 3.8 0 1 0 7.6 0a3.8 3.8 0 1 0 -7.6 0M1098.6 320.6a3.8 3.8 0 1 0 7.6 0a3.8 3.8 0 1 0 -7.6 0M1101.0 300.0a3.8 3.8 0 1 0 7.6 0a3.8 3.8 0 1 0 -7.6 0M1103.2 319.0a3.8 3.8 0 1 0 7.6 0a3.8 3.8 0 1 0 -7.6 0M1105.9 334.5a3.8 3.8 0 1 0 7.6 0a3.8 3.8 0 1 0 -7.6 0M1107.5 343.7a3.8 3.8 0 1 0 7.6 0a3.8 3.8 0 1 0 -7.6 0M1110.2 355.9a3.8 3.8 0 1 0 7.6 0a3.8 3.8 0 1 0 -7.6 0M1110.4 356.8a3.8 3.8 0 1 0 7.6 0a3.8 3.8 0 1 0 -7.6 0M1113.1 361.3a3.8 3.8 0 1 0 7.6 0a3.8 3.8 0 1 0 -7.6 0M1115.8 365.8a3.8 3.8 0 1 0 7.6 0a3.8 3.8 0 1 0 -7.6 0M1116.2 366.5a3.8 3.8 0 1 0 7.6 0a3.8 3.8 0 1 0 -7.6 0M1318.2 333.0a3.8 3.8 0 1 0 7.6 0a3.8 3.8 0 1 0 -7.6 0M1320.9 325.1a3.8 3.8 0 1 0 7.6 0a3.8 3.8 0 1 0 -7.6 0M1321.2 324.2a3.8 3.8 0 1 0 7.6 0a3.8 3.8 0 1 0 -7.6 0M1323.4 313.5a3.8 3.8 0 1 0 7.6 0a3.8 3.8 0 1 0 -7.6 0M1326.1 293.4a3.8 3.8 0 1 0 7.6 0a3.8 3.8 0 1 0 -7.6 0M1328.8 273.3a3.8 3.8 0 1 0 7.6 0a3.8 3.8 0 1 0 -7.6 0M1331.5 253.2a3.8 3.8 0 1 0 7.6 0a3.8 3.8 0 1 0 -7.6 0M1332.0 249.5a3.8 3.8 0 1 0 7.6 0a3.8 3.8 0 1 0 -7.6 0M1334.7 249.5a3.8 3.8 0 1 0 7.6 0a3.8 3.8 0 1 0 -7.6 0M1337.4 249.5a3.8 3.8 0 1 0 7.6 0a3.8 3.8 0 1 0 -7.6 0M1338.4 249.5a3.8 3.8 0 1 0 7.6 0a3.8 3.8 0 1 0 -7.6 0M1340.5 288.0a3.8 3.8 0 1 0 7.6 0a3.8 3.8 0 1 0 -7.6 0M1343.2 304.0a3.8 3.8 0 1 0 7.6 0a3.8 3.8 0 1 0 -7.6 0M1344.8 313.5a3.8 3.8 0 1 0 7.6 0a3.8 3.8 0 1 0 -7.6 0M1347.5 324.3a3.8 3.8 0 1 0 7.6 0a3.8 3.8 0 1 0 -7.6 0M1350.2 335.2a3.8 3.8 0 1 0 7.6 0a3.8 3.8 0 1 0 -7.6 0M1351.2 339.2a3.8 3.8 0 1 0 7.6 0a3.8 3.8 0 1 0 -7.6 0M1353.9 310.3a3.8 3.8 0 1 0 7.6 0a3.8 3.8 0 1 0 -7.6 0M1354.4 305.0a3.8 3.8 0 1 0 7.6 0a3.8 3.8 0 1 0 -7.6 0M1357.1 339.3a3.8 3.8 0 1 0 7.6 0a3.8 3.8 0 1 0 -7.6 0M1357.6 345.6a3.8 3.8 0 1 0 7.6 0a3.8 3.8 0 1 0 -7.6 0M1360.3 351.9a3.8 3.8 0 1 0 7.6 0a3.8 3.8 0 1 0 -7.6 0M1363.0 358.2a3.8 3.8 0 1 0 7.6 0a3.8 3.8 0 1 0 -7.6 0M1364.0 360.5a3.8 3.8 0 1 0 7.6 0a3.8 3.8 0 1 0 -7.6 0" fill="none" stroke="#000" stroke-width="3.4"/><polygon points="730.0,420.0 740.0,380.0 751.4,373.3 754.4,374.0 770.9,369.0 782.5,365.4 787.0,368.0 792.2,364.2 799.6,367.2 809.3,367.2 818.5,364.2 822.0,362.0 822.0,379.4 820.3,397.7 816.6,415.4 809.3,413.0 800.2,411.7 794.7,425.8 790.4,426.4 784.9,428.2 780.0,428.2 775.8,415.4 771.5,422.1 765.4,428.2 758.7,434.3 753.2,444.1 747.7,440.1 745.0,428.2 742.2,436.1 736.1,449.6 730.0,455.0" fill="#000000" stroke="#000000" stroke-width="1.5" stroke-linejoin="round" /><polygon points="819.0,365.0 820.0,320.0 823.7,318.1 826.0,326.0 829.3,318.1 834.0,331.0 838.0,337.0 841.6,331.2 845.0,341.0 848.3,329.2 853.0,342.0 859.0,327.2 862.0,340.0 866.6,333.2 870.0,342.0 875.0,352.0 880.0,360.0 945.0,361.0 945.0,369.5 935.0,370.5 925.0,369.0 915.0,370.5 905.0,368.0 895.0,370.5 888.0,368.5 880.0,370.5 872.0,369.0 860.0,369.5 840.0,369.0 825.0,370.0 819.0,372.0" fill="#000000" stroke="#000000" stroke-width="1.5" stroke-linejoin="round" /><polygon points="1276.0,366.0 1282.0,357.0 1286.0,346.0 1290.0,334.0 1293.2,319.5 1296.0,331.0 1300.0,333.0 1305.0,339.0 1310.0,336.0 1314.0,334.0 1318.0,337.0 1322.0,333.0 1325.0,326.0 1328.0,315.0 1331.0,305.0 1331.0,335.0 1326.0,345.0 1320.0,352.0 1312.0,358.0 1305.0,362.0 1295.0,366.0 1285.0,368.0 1276.0,369.0" fill="#000000" stroke="#000000" stroke-width="1.5" stroke-linejoin="round" /><polygon points="1348.0,330.0 1352.0,335.0 1356.0,340.0 1359.7,304.0 1362.0,335.0 1366.0,345.0 1370.0,336.0 1375.0,340.0 1380.0,345.0 1385.0,340.0 1392.0,352.0 1398.0,345.0 1404.0,342.0 1410.0,350.0 1415.0,346.0 1420.0,344.0 1425.0,347.0 1430.0,344.0 1436.0,346.0 1436.0,363.0 1420.0,367.0 1412.0,366.0 1405.0,368.0 1398.0,366.0 1390.0,367.5 1382.0,366.0 1375.0,367.5 1367.0,367.0 1360.0,365.0 1348.0,355.0" fill="#000000" stroke="#000000" stroke-width="1.5" stroke-linejoin="round" /><polygon points="1432.0,340.0 1435.7,321.1 1441.3,305.9 1448.0,301.2 1454.6,311.6 1456.5,324.9 1465.0,324.9 1471.6,334.3 1474.4,341.0 1477.3,338.1 1483.0,341.9 1485.8,345.1 1488.7,337.1 1494.3,332.4 1497.6,333.8 1500.9,331.4 1507.5,330.5 1517.0,334.3 1519.8,343.4 1522.7,340.9 1528.4,347.5 1534.0,344.7 1541.6,345.7 1544.0,350.0 1544.0,364.5 1524.6,364.0 1505.7,362.5 1486.7,362.5 1467.8,362.5 1448.9,361.5 1432.0,364.0" fill="#000000" stroke="#000000" stroke-width="1.5" stroke-linejoin="round" /><polygon points="1541.0,345.0 1543.5,326.7 1550.0,330.0 1558.0,320.0 1564.0,310.0 1568.0,289.9 1572.0,310.0 1580.0,312.0 1586.0,318.0 1591.7,305.9 1596.0,318.0 1600.2,313.5 1606.0,325.0 1612.0,330.0 1619.0,334.3 1621.0,326.7 1628.0,340.0 1636.0,348.0 1645.0,346.0 1652.0,345.0 1660.8,342.8 1670.0,340.0 1672.5,344.8 1675.0,343.0 1680.0,346.0 1687.2,345.7 1689.9,351.7 1692.6,347.9 1698.0,350.0 1701.0,357.9 1704.0,352.0 1710.0,354.0 1712.8,360.1 1715.7,355.5 1721.3,357.0 1724.0,362.0 1726.7,358.0 1732.0,359.0 1740.0,360.8 1740.0,370.5 1694.8,369.0 1657.0,368.5 1619.0,367.0 1600.0,367.0 1580.0,366.5 1560.0,366.0 1541.0,364.5" fill="#000000" stroke="#000000" stroke-width="1.5" stroke-linejoin="round" /><polyline points="291.0,366.5 294.0,367.0 297.5,383.0 301.0,367.0 362.0,367.0 366.0,375.0 370.0,367.0 420.0,366.3 448.0,367.0 468.8,371.7 483.5,373.0 488.3,369.3 503.0,371.7 507.9,375.4 517.6,373.0 527.4,376.6 532.3,386.4 536.0,379.0 540.8,398.6 543.2,374.2 548.1,386.4 553.0,408.3 554.2,391.3 560.3,391.3 564.0,413.2 565.7,403.0 570.4,488.0 567.6,525.0 573.0,606.7 576.0,516.0 581.5,445.5 586.0,445.5 590.7,553.0 594.4,503.0 601.0,503.0 606.5,575.0 608.3,445.5 615.7,451.0 618.5,501.0 618.5,404.8 629.6,404.8 637.0,375.0 648.0,371.5 657.4,367.8 690.0,368.0 700.0,373.0 706.0,381.4 709.8,407.6 711.2,443.0 713.0,506.0 714.6,606.0 715.6,707.0 716.2,833.0 716.3,889.8 716.9,889.8 717.3,833.0 718.4,707.0 719.8,606.0 721.8,506.0 724.5,455.0 727.6,438.6 734.8,431.4 739.5,385.0" fill="none" stroke="#ff0000" stroke-width="5.6" stroke-linejoin="miter" stroke-miterlimit="4" /><polyline points="943.0,365.0 986.0,365.2 994.9,356.8 999.3,362.0 1009.5,342.0 1015.3,359.7 1019.7,307.3 1024.0,343.7 1029.8,310.3 1034.2,322.0 1039.3,241.9 1041.5,158.0 1047.3,161.0 1050.2,172.6 1053.1,80.0 1056.8,80.0 1060.4,191.0 1063.3,292.8 1066.2,343.7 1073.5,356.8 1091.0,362.0 1111.3,364.5 1282.4,365.3 1299.5,358.4 1312.3,349.8 1315.5,360.5 1325.0,330.6 1330.4,285.8 1333.6,324.2 1336.8,298.6 1341.1,307.1 1350.7,345.6 1357.0,350.0 1361.0,334.0 1365.7,352.0 1373.1,309.3 1379.5,306.0 1382.8,332.8 1387.0,335.0 1394.5,283.6 1396.0,300.0 1397.7,277.2 1400.9,335.0 1405.2,345.6 1411.6,313.5 1413.7,202.0 1416.9,202.0 1419.0,292.2 1422.3,134.0 1427.6,134.0 1429.7,270.8 1434.0,302.9 1436.1,345.6 1444.7,358.4 1449.0,362.0 1453.2,364.0 1536.4,364.0 1543.5,345.0 1547.3,313.5 1550.0,347.6 1553.9,298.4 1562.0,340.0 1567.1,357.0 1574.7,292.7 1581.3,317.3 1585.0,340.0 1590.0,332.0 1596.0,348.0 1603.1,315.4 1607.0,348.0 1610.6,323.9 1614.5,355.0 1621.8,345.2 1629.5,340.0 1634.3,362.3 1645.6,349.4 1651.0,355.0 1660.8,350.0 1672.1,336.2 1674.0,362.3 1685.0,357.0 1698.6,347.5 1706.0,357.0 1713.7,356.1 1718.0,362.0 1724.3,364.2 1775.5,364.5 1780.0,358.6 1785.0,364.5 1828.0,364.7 1833.0,361.0 1838.0,364.7 1882.0,364.7" fill="none" stroke="#ff0000" stroke-width="5.6" stroke-linejoin="miter" stroke-miterlimit="4" /><polygon points="736.0,392.0 740.4,380.0 743.9,384.9 747.4,377.0 754.4,374.0 758.5,376.7 762.6,371.5 770.9,369.0 774.5,377.6 778.1,368.6 781.7,376.8 785.2,368.1 788.8,373.5 792.4,367.6 799.6,367.2 809.3,367.2 818.5,364.2 821.5,362.0 821.5,373.0 816.6,386.1 809.9,384.9 806.6,380.5 803.2,383.7 797.1,391.6 794.0,389.0 791.0,399.5 785.0,403.8 774.0,399.0 763.0,416.6 753.2,433.1 747.1,430.6 744.0,425.8 741.0,428.2 736.0,432.0" fill="#ff0000" stroke="#ff0000" stroke-width="1.5" stroke-linejoin="round" /><polygon points="566.5,515.0 571.0,512.0 575.0,520.0 581.0,514.0 582.5,520.0 582.0,584.0 578.0,600.0 571.0,600.0 566.5,545.0" fill="#ff0000"/><polygon points="820.5,362.0 822.5,348.0 826.0,346.0 830.0,349.0 835.0,346.0 841.2,337.5 844.5,350.0 848.3,335.2 853.1,354.2 858.7,335.2 863.0,350.0 869.4,340.0 873.3,329.2 878.5,352.6 882.5,333.2 888.0,355.8 893.2,333.2 898.0,352.0 904.7,320.1 908.0,345.0 910.2,337.1 914.2,356.6 919.8,338.3 924.5,355.8 929.7,332.4 935.0,352.0 940.4,359.0 945.0,362.0 945.0,366.0 940.0,364.0 932.0,365.5 924.0,366.0 916.0,366.5 908.0,363.0 900.0,365.0 892.0,366.5 884.0,365.0 876.0,366.5 868.0,365.0 860.0,364.0 853.0,367.0 846.0,366.0 838.0,362.0 830.0,364.0 824.0,366.0 820.5,376.0" fill="#ff0000" stroke="#ff0000" stroke-width="1.5" stroke-linejoin="round" /><defs><clipPath id="cb"><rect x="243.0" y="1350.5" width="1643.0" height="1149.9"/></clipPath></defs><g clip-path="url(#cb)"><polyline points="395.0,1733.6 1886.0,1733.6" fill="none" stroke="#000000" stroke-width="4.8" stroke-linejoin="miter" stroke-miterlimit="4" /><polygon points="641.9,1736.5 653.0,1736.0 653.4,1723.0 654.5,1736.0 657.2,1736.5 660.4,1749.1 663.5,1736.5 667.0,1736.0 667.7,1725.0 668.8,1736.0 669.1,1749.5 671.9,1736.5 674.5,1736.5 678.0,1748.8 681.6,1736.5 685.3,1736.5 688.2,1743.2 691.1,1736.5 691.5,1736.5 695.0,1743.3 698.4,1736.5 700.5,1736.0 701.4,1728.0 702.5,1736.0 704.2,1742.2 707.5,1736.5 712.1,1736.5 714.2,1751.0 716.2,1736.5 721.9,1736.5 724.4,1749.5 726.8,1736.5 731.8,1736.5 734.0,1748.9 736.3,1736.5 736.8,1736.5 740.6,1749.1 744.5,1736.5 749.4,1736.5 751.5,1745.0 753.7,1736.5 757.4,1736.5 760.6,1743.5 763.9,1736.5 767.4,1736.5 771.1,1744.8 774.8,1736.5 774.5,1736.5 777.8,1746.0 781.2,1736.5 784.1,1736.5 787.1,1745.8 790.1,1736.5 791.0,1736.5 793.2,1746.5 795.5,1736.5 800.0,1736.5 800.0,1736.0 797.1,1737.6 793.2,1740.4 787.6,1739.6 782.9,1744.8 777.3,1741.2 773.3,1745.2 768.6,1746.7 763.8,1746.0 759.0,1749.9 755.9,1750.7 751.9,1747.5 748.7,1749.1 746.3,1756.3 740.0,1761.0 738.7,1761.8 737.1,1761.0 735.6,1757.1 733.2,1757.9 731.6,1761.8 728.4,1769.8 724.8,1757.9 721.3,1757.9 718.9,1770.6 717.3,1777.7 712.5,1753.9 711.0,1754.7 710.2,1766.6 706.2,1773.7 701.4,1765.8 699.8,1755.5 698.3,1759.4 697.5,1777.7 692.7,1780.9 690.3,1781.7 689.5,1760.2 687.1,1761.0 686.3,1781.7 685.6,1791.2 680.0,1791.2 678.8,1761.0 676.4,1762.6 675.2,1770.6 673.3,1785.6 671.3,1796.7 669.7,1783.3 668.1,1773.7 664.9,1773.7 664.9,1784.0 662.9,1794.4 661.7,1803.9 660.2,1794.4 659.0,1780.1 653.8,1779.3 652.6,1767.4 648.3,1772.9 647.1,1765.8 646.3,1751.5 645.1,1741.2 641.9,1737.2" fill="#000000" stroke="#000000" stroke-width="1.5" stroke-linejoin="round" /><polygon points="1003.8,1731.0 1031.8,1729.6 1037.6,1727.1 1043.3,1728.8 1051.6,1730.4 1058.2,1729.6 1063.1,1728.0 1067.0,1728.0 1068.9,1725.5 1070.5,1720.5 1072.2,1721.4 1075.5,1711.5 1077.1,1711.5 1079.6,1721.4 1081.2,1728.0 1082.9,1731.0 1082.9,1731.5 1003.8,1731.5" fill="#000000" stroke="#000000" stroke-width="1.5" stroke-linejoin="round" /><polygon points="1169.5,1730.5 1184.6,1729.9 1189.3,1723.6 1192.5,1718.8 1194.9,1724.3 1197.3,1724.0 1200.5,1726.7 1206.0,1724.3 1210.8,1726.7 1213.9,1725.1 1216.3,1726.7 1221.9,1719.9 1225.0,1725.1 1226.6,1727.5 1229.8,1728.3 1233.0,1725.9 1239.3,1726.7 1241.7,1728.3 1248.0,1722.3 1251.2,1728.3 1256.0,1724.3 1259.9,1724.3 1264.7,1727.5 1269.5,1726.7 1272.6,1728.3 1280.6,1725.1 1283.7,1715.6 1286.9,1714.0 1289.3,1715.6 1293.2,1722.8 1298.8,1722.8 1302.8,1724.3 1312.3,1727.5 1320.2,1724.3 1326.6,1725.1 1334.5,1728.3 1340.0,1726.7 1344.0,1729.9 1351.9,1729.9 1359.9,1727.5 1362.3,1724.3 1366.2,1726.7 1373.4,1726.7 1375.7,1720.4 1378.9,1720.4 1382.1,1711.7 1385.3,1720.4 1388.4,1722.0 1390.0,1724.3 1394.8,1716.4 1397.9,1719.6 1401.1,1723.6 1404.3,1724.3 1407.5,1722.8 1410.0,1722.6 1419.5,1710.9 1423.2,1721.9 1426.8,1710.1 1431.2,1723.3 1436.4,1712.3 1439.3,1723.3 1443.7,1712.3 1448.1,1717.5 1451.0,1722.6 1456.9,1721.1 1461.3,1726.3 1467.1,1730.5 1471.5,1726.3 1475.9,1719.7 1480.3,1717.5 1483.2,1723.3 1486.1,1717.5 1489.8,1717.5 1494.2,1725.5 1500.8,1727.7 1506.6,1714.5 1511.8,1713.1 1514.7,1721.9 1517.6,1712.3 1522.0,1713.1 1526.4,1721.9 1530.1,1723.3 1534.5,1710.9 1537.4,1721.9 1541.1,1708.7 1544.7,1721.9 1547.6,1707.9 1551.3,1710.1 1554.2,1717.5 1559.4,1707.2 1563.1,1723.3 1565.2,1705.0 1568.2,1717.5 1570.3,1723.3 1576.9,1702.8 1584.3,1710.1 1591.6,1710.9 1597.4,1699.2 1600.4,1699.2 1604.7,1688.2 1606.9,1709.4 1613.5,1709.4 1615.7,1701.4 1617.9,1709.4 1620.1,1702.1 1622.3,1718.9 1625.2,1699.9 1629.6,1714.5 1635.5,1731.0 1635.5,1731.5 1169.5,1731.5" fill="#000000" stroke="#000000" stroke-width="1.5" stroke-linejoin="round" /><polyline points="322.0,1733.4 555.0,1734.5 560.0,1737.5 564.8,1742.0 567.5,1748.0 569.5,1755.0 570.9,1760.7 571.4,1774.6 572.5,1792.5 573.5,1861.0 574.5,2000.0 575.5,2200.0 576.3,2510.0 577.5,2510.0 578.3,2200.0 579.2,2000.0 580.2,1861.0 581.0,1824.0 581.4,1784.5 582.3,1768.0 584.0,1756.8 586.7,1744.8 591.0,1739.5 596.0,1736.5 604.0,1734.5 616.3,1734.5 618.2,1763.5 619.8,1763.5 621.7,1734.5 1400.0,1733.2 1462.7,1732.0 1466.0,1729.0 1469.0,1732.5 1497.1,1732.0 1500.0,1729.0 1503.0,1732.5 1525.0,1732.0 1528.0,1729.5 1531.0,1732.5 1545.0,1732.0 1548.0,1729.5 1551.0,1732.5 1555.0,1732.0 1558.0,1730.0 1561.0,1732.5 1566.0,1733.0" fill="none" stroke="#ff0000" stroke-width="5.3" stroke-linejoin="miter" stroke-miterlimit="4" /><polyline points="1592.0,1733.5 1596.0,1730.0 1598.5,1721.0 1604.0,1721.0 1607.0,1728.5 1611.0,1733.0 1612.0,1733.3 1612.2,1733.3 1612.5,1733.3 1612.8,1733.3 1613.0,1733.3 1613.2,1733.3 1613.5,1733.3 1613.8,1733.3 1614.0,1733.3 1614.2,1733.3 1614.5,1733.3 1614.8,1733.3 1615.0,1733.3 1615.2,1733.3 1615.5,1733.3 1615.8,1733.3 1616.0,1733.3 1616.2,1733.3 1616.5,1733.3 1616.8,1733.3 1617.0,1733.3 1617.2,1733.3 1617.5,1733.3 1617.8,1733.3 1618.0,1733.3 1618.2,1733.3 1618.5,1733.3 1618.8,1733.3 1619.0,1733.3 1619.2,1733.3 1619.5,1733.3 1619.8,1733.3 1620.0,1733.3 1620.2,1733.3 1620.5,1733.3 1620.8,1733.3 1621.0,1733.3 1621.2,1733.3 1621.5,1733.3 1621.8,1733.3 1622.0,1733.3 1622.2,1733.3 1622.5,1733.3 1622.8,1733.3 1623.0,1733.3 1623.2,1733.3 1623.5,1733.3 1623.8,1733.3 1624.0,1733.3 1624.2,1733.3 1624.5,1733.3 1624.8,1733.3 1625.0,1733.3 1625.2,1733.3 1625.5,1733.3 1625.8,1733.3 1626.0,1733.3 1626.2,1733.3 1626.5,1733.3 1626.8,1733.3 1627.0,1733.3 1627.2,1733.3 1627.5,1733.3 1627.8,1733.3 1628.0,1733.3 1628.2,1733.3 1628.5,1733.3 1628.8,1733.3 1629.0,1733.3 1629.2,1733.3 1629.5,1733.3 1629.8,1733.3 1630.0,1733.3 1630.2,1733.3 1630.5,1733.3 1630.8,1733.3 1631.0,1733.3 1631.2,1733.3 1631.5,1733.3 1631.8,1733.3 1632.0,1733.3 1632.2,1733.3 1632.5,1733.3 1632.8,1733.3 1633.0,1733.3 1633.2,1733.3 1633.5,1733.3 1633.8,1733.3 1634.0,1733.3 1634.2,1733.3 1634.5,1733.3 1634.8,1733.3 1635.0,1733.3 1635.2,1733.3 1635.5,1733.3 1635.8,1733.3 1636.0,1733.3 1636.2,1733.3 1636.5,1733.3 1636.8,1733.3 1637.0,1733.3 1637.2,1733.3 1637.5,1733.3 1637.8,1733.3 1638.0,1733.3 1638.2,1733.3 1638.5,1733.3 1638.8,1733.3 1639.0,1733.3 1639.2,1733.3 1639.5,1733.3 1639.8,1733.3 1640.0,1733.3 1640.2,1733.3 1640.5,1733.3 1640.8,1733.3 1641.0,1733.3 1641.2,1733.3 1641.5,1733.3 1641.8,1733.3 1642.0,1733.3 1642.2,1733.3 1642.5,1733.3 1642.8,1733.3 1643.0,1733.3 1643.2,1733.2 1643.5,1733.2 1643.8,1733.2 1644.0,1733.2 1644.2,1733.2 1644.5,1733.2 1644.8,1733.2 1645.0,1733.2 1645.2,1733.2 1645.5,1733.2 1645.8,1733.2 1646.0,1733.2 1646.2,1733.2 1646.5,1733.2 1646.8,1733.2 1647.0,1733.2 1647.2,1733.2 1647.5,1733.2 1647.8,1733.2 1648.0,1733.2 1648.2,1733.2 1648.5,1733.2 1648.8,1733.2 1649.0,1733.2 1649.2,1733.2 1649.5,1733.2 1649.8,1733.2 1650.0,1733.2 1650.2,1733.2 1650.5,1733.2 1650.8,1733.2 1651.0,1733.2 1651.2,1733.2 1651.5,1733.2 1651.8,1733.2 1652.0,1733.2 1652.2,1733.2 1652.5,1733.2 1652.8,1733.2 1653.0,1733.2 1653.2,1733.2 1653.5,1733.2 1653.8,1733.2 1654.0,1733.2 1654.2,1733.2 1654.5,1733.2 1654.8,1733.2 1655.0,1733.2 1655.2,1733.2 1655.5,1733.2 1655.8,1733.2 1656.0,1733.2 1656.2,1733.2 1656.5,1733.2 1656.8,1733.2 1657.0,1733.2 1657.2,1733.2 1657.5,1733.2 1657.8,1733.2 1658.0,1733.2 1658.2,1733.2 1658.5,1733.2 1658.8,1733.2 1659.0,1733.2 1659.2,1733.2 1659.5,1733.2 1659.8,1733.2 1660.0,1733.2 1660.2,1733.2 1660.5,1733.2 1660.8,1733.2 1661.0,1733.2 1661.2,1733.2 1661.5,1733.2 1661.8,1733.2 1662.0,1733.2 1662.2,1733.2 1662.5,1733.2 1662.8,1733.2 1663.0,1733.2 1663.2,1733.2 1663.5,1733.2 1663.8,1733.2 1664.0,1733.2 1664.2,1733.2 1664.5,1733.2 1664.8,1733.2 1665.0,1733.2 1665.2,1733.1 1665.5,1733.1 1665.8,1733.1 1666.0,1733.1 1666.2,1733.1 1666.5,1733.1 1666.8,1733.1 1667.0,1733.1 1667.2,1733.1 1667.5,1733.1 1667.8,1733.1 1668.0,1733.1 1668.2,1733.1 1668.5,1733.1 1668.8,1733.1 1669.0,1733.1 1669.2,1733.1 1669.5,1733.1 1669.8,1733.1 1670.0,1733.1 1670.2,1733.1 1670.5,1733.1 1670.8,1733.1 1671.0,1733.1 1671.2,1733.1 1671.5,1733.1 1671.8,1733.1 1672.0,1733.1 1672.2,1733.1 1672.5,1733.1 1672.8,1733.1 1673.0,1733.1 1673.2,1733.1 1673.5,1733.1 1673.8,1733.1 1674.0,1733.1 1674.2,1733.1 1674.5,1733.1 1674.8,1733.1 1675.0,1733.1 1675.2,1733.1 1675.5,1733.1 1675.8,1733.1 1676.0,1733.1 1676.2,1733.1 1676.5,1733.1 1676.8,1733.0 1677.0,1733.0 1677.2,1733.0 1677.5,1733.0 1677.8,1733.0 1678.0,1733.0 1678.2,1733.0 1678.5,1733.0 1678.8,1733.0 1679.0,1733.0 1679.2,1733.0 1679.5,1733.0 1679.8,1733.0 1680.0,1733.0 1680.2,1733.0 1680.5,1733.0 1680.8,1733.0 1681.0,1733.0 1681.2,1733.0 1681.5,1733.0 1681.8,1733.0 1682.0,1733.0 1682.2,1733.0 1682.5,1733.0 1682.8,1733.0 1683.0,1733.0 1683.2,1733.0 1683.5,1733.0 1683.8,1733.0 1684.0,1733.0 1684.2,1732.9 1684.5,1732.9 1684.8,1732.9 1685.0,1732.9 1685.2,1732.9 1685.5,1732.9 1685.8,1732.9 1686.0,1732.9 1686.2,1732.9 1686.5,1732.9 1686.8,1732.9 1687.0,1732.9 1687.2,1732.9 1687.5,1732.9 1687.8,1732.9 1688.0,1732.9 1688.2,1732.9 1688.5,1732.9 1688.8,1732.9 1689.0,1732.9 1689.2,1732.9 1689.5,1732.8 1689.8,1732.8 1690.0,1732.8 1690.2,1732.8 1690.5,1732.8 1690.8,1732.8 1691.0,1732.8 1691.2,1732.8 1691.5,1732.8 1691.8,1732.8 1692.0,1732.8 1692.2,1732.8 1692.5,1732.8 1692.8,1732.8 1693.0,1732.8 1693.2,1732.8 1693.5,1732.8 1693.8,1732.7 1694.0,1732.7 1694.2,1732.7 1694.5,1732.7 1694.8,1732.7 1695.0,1732.7 1695.2,1732.7 1695.5,1732.7 1695.8,1732.7 1696.0,1732.7 1696.2,1732.7 1696.5,1732.7 1696.8,1732.6 1697.0,1732.6 1697.2,1732.6 1697.5,1732.6 1697.8,1732.6 1698.0,1732.6 1698.2,1732.6 1698.5,1732.6 1698.8,1732.6 1699.0,1732.6 1699.2,1732.6 1699.5,1732.5 1699.8,1732.5 1700.0,1732.5 1700.2,1732.5 1700.5,1732.5 1700.8,1732.5 1701.0,1732.5 1701.2,1732.5 1701.5,1732.5 1701.8,1732.4 1702.0,1732.4 1702.2,1732.4 1702.5,1732.4 1702.8,1732.4 1703.0,1732.4 1703.2,1732.4 1703.5,1732.3 1703.8,1732.3 1704.0,1732.3 1704.2,1732.3 1704.5,1732.3 1704.8,1732.3 1705.0,1732.3 1705.2,1732.2 1705.5,1732.2 1705.8,1732.2 1706.0,1732.2 1706.2,1732.2 1706.5,1732.1 1706.8,1732.1 1707.0,1732.1 1707.2,1732.1 1707.5,1732.1 1707.8,1732.1 1708.0,1732.0 1708.2,1732.0 1708.5,1732.0 1708.8,1732.0 1709.0,1731.9 1709.2,1731.9 1709.5,1731.9 1709.8,1731.9 1710.0,1731.8 1710.2,1731.8 1710.5,1731.8 1710.8,1731.8 1711.0,1731.7 1711.2,1731.7 1711.5,1731.7 1711.8,1731.6 1712.0,1731.6 1712.2,1731.6 1712.5,1731.5 1712.8,1731.5 1713.0,1731.5 1713.2,1731.4 1713.5,1731.4 1713.8,1731.4 1714.0,1731.3 1714.2,1731.3 1714.5,1731.2 1714.8,1731.2 1715.0,1731.2 1715.2,1731.1 1715.5,1731.1 1715.8,1731.0 1716.0,1731.0 1716.2,1730.9 1716.5,1730.9 1716.8,1730.8 1717.0,1730.8 1717.2,1730.7 1717.5,1730.6 1717.8,1730.6 1718.0,1730.5 1718.2,1730.4 1718.5,1730.4 1718.8,1730.3 1719.0,1730.2 1719.2,1730.1 1719.5,1730.1 1719.8,1730.0 1720.0,1729.9 1720.2,1729.8 1720.5,1729.7 1720.8,1729.6 1721.0,1729.5 1721.2,1729.4 1721.5,1729.3 1721.8,1729.2 1722.0,1729.1 1722.2,1729.0 1722.5,1728.8 1722.8,1728.7 1723.0,1728.6 1723.2,1728.4 1723.5,1728.3 1723.8,1728.1 1724.0,1727.9 1724.2,1727.8 1724.5,1727.6 1724.8,1727.4 1725.0,1727.2 1725.2,1727.0 1725.5,1726.8 1725.8,1726.5 1726.0,1726.3 1726.2,1726.0 1726.5,1725.7 1726.8,1725.5 1727.0,1725.1 1727.2,1724.8 1727.5,1724.5 1727.8,1724.1 1728.0,1723.7 1728.2,1723.3 1728.5,1722.9 1728.8,1722.4 1729.0,1721.9 1729.2,1721.4 1729.5,1720.8 1729.8,1720.2 1730.0,1719.5 1730.2,1718.8 1730.5,1718.0 1730.8,1717.2 1731.0,1716.3 1731.2,1715.3 1731.5,1714.3 1731.8,1713.1 1732.0,1711.8 1732.2,1710.4 1732.5,1708.9 1732.8,1707.2 1733.0,1705.4 1733.2,1703.3 1733.5,1701.0 1733.8,1698.5 1734.0,1695.6 1734.2,1692.3 1734.5,1688.6 1734.8,1684.4 1735.0,1679.6 1735.2,1674.1 1735.5,1667.7 1735.8,1660.2 1736.0,1651.4 1736.2,1640.9 1736.5,1628.4 1736.8,1613.2 1737.0,1594.7 1737.2,1571.7 1737.5,1542.9 1737.8,1506.4 1738.0,1459.3 1738.2,1397.9 1738.5,1330.0 1738.8,1330.0 1739.0,1330.0 1739.2,1330.0 1739.5,1330.0 1739.8,1330.0 1740.0,1330.0 1740.2,1330.0 1740.5,1330.0 1740.8,1330.0 1741.0,1330.0 1741.2,1330.0 1741.5,1330.0 1741.8,1397.9 1742.0,1459.3 1742.2,1506.4 1742.5,1542.9 1742.8,1571.7 1743.0,1594.7 1743.2,1613.2 1743.5,1628.4 1743.8,1640.9 1744.0,1651.4 1744.2,1660.2 1744.5,1667.7 1744.8,1674.1 1745.0,1679.6 1745.2,1684.4 1745.5,1688.6 1745.8,1692.3 1746.0,1695.6 1746.2,1698.5 1746.5,1701.0 1746.8,1703.3 1747.0,1705.4 1747.2,1707.2 1747.5,1708.9 1747.8,1710.4 1748.0,1711.8 1748.2,1713.1 1748.5,1714.3 1748.8,1715.3 1749.0,1716.3 1749.2,1717.2 1749.5,1718.0 1749.8,1718.8 1750.0,1719.5 1750.2,1720.2 1750.5,1720.8 1750.8,1721.4 1751.0,1721.9 1751.2,1722.4 1751.5,1722.9 1751.8,1723.3 1752.0,1723.7 1752.2,1724.1 1752.5,1724.5 1752.8,1724.8 1753.0,1725.1 1753.2,1725.5 1753.5,1725.7 1753.8,1726.0 1754.0,1726.3 1754.2,1726.5 1754.5,1726.8 1754.8,1727.0 1755.0,1727.2 1755.2,1727.4 1755.5,1727.6 1755.8,1727.8 1756.0,1727.9 1756.2,1728.1 1756.5,1728.3 1756.8,1728.4 1757.0,1728.6 1757.2,1728.7 1757.5,1728.8 1757.8,1729.0 1758.0,1729.1 1758.2,1729.2 1758.5,1729.3 1758.8,1729.4 1759.0,1729.5 1759.2,1729.6 1759.5,1729.7 1759.8,1729.8 1760.0,1729.9 1760.2,1730.0 1760.5,1730.1 1760.8,1730.1 1761.0,1730.2 1761.2,1730.3 1761.5,1730.4 1761.8,1730.4 1762.0,1730.5 1762.2,1730.6 1762.5,1730.6 1762.8,1730.7 1763.0,1730.8 1763.2,1730.8 1763.5,1730.9 1763.8,1730.9 1764.0,1731.0 1764.2,1731.0 1764.5,1731.1 1764.8,1731.1 1765.0,1731.2 1765.2,1731.2 1765.5,1731.2 1765.8,1731.3 1766.0,1731.3 1766.2,1731.4 1766.5,1731.4 1766.8,1731.4 1767.0,1731.5 1767.2,1731.5 1767.5,1731.5 1767.8,1731.6 1768.0,1731.6 1768.2,1731.6 1768.5,1731.7 1768.8,1731.7 1769.0,1731.7 1769.2,1731.8 1769.5,1731.8 1769.8,1731.8 1770.0,1731.8 1770.2,1731.9 1770.5,1731.9 1770.8,1731.9 1771.0,1731.9 1771.2,1732.0 1771.5,1732.0 1771.8,1732.0 1772.0,1732.0 1772.2,1732.1 1772.5,1732.1 1772.8,1732.1 1773.0,1732.1 1773.2,1732.1 1773.5,1732.1 1773.8,1732.2 1774.0,1732.2 1774.2,1732.2 1774.5,1732.2 1774.8,1732.2 1775.0,1732.3 1775.2,1732.3 1775.5,1732.3 1775.8,1732.3 1776.0,1732.3 1776.2,1732.3 1776.5,1732.3 1776.8,1732.4 1777.0,1732.4 1777.2,1732.4 1777.5,1732.4 1777.8,1732.4 1778.0,1732.4 1778.2,1732.4 1778.5,1732.5 1778.8,1732.5 1779.0,1732.5 1779.2,1732.5 1779.5,1732.5 1779.8,1732.5 1780.0,1732.5 1780.2,1732.5 1780.5,1732.5 1780.8,1732.6 1781.0,1732.6 1781.2,1732.6 1781.5,1732.6 1781.8,1732.6 1782.0,1732.6 1782.2,1732.6 1782.5,1732.6 1782.8,1732.6 1783.0,1732.6 1783.2,1732.6 1783.5,1732.7 1783.8,1732.7 1784.0,1732.7 1784.2,1732.7 1784.5,1732.7 1784.8,1732.7 1785.0,1732.7 1785.2,1732.7 1785.5,1732.7 1785.8,1732.7 1786.0,1732.7 1786.2,1732.7 1786.5,1732.8 1786.8,1732.8 1787.0,1732.8 1787.2,1732.8 1787.5,1732.8 1787.8,1732.8 1788.0,1732.8 1788.2,1732.8 1788.5,1732.8 1788.8,1732.8 1789.0,1732.8 1789.2,1732.8 1789.5,1732.8 1789.8,1732.8 1790.0,1732.8 1790.2,1732.8 1790.5,1732.8 1790.8,1732.9 1791.0,1732.9 1791.2,1732.9 1791.5,1732.9 1791.8,1732.9 1792.0,1732.9 1792.2,1732.9 1792.5,1732.9 1792.8,1732.9 1793.0,1732.9 1793.2,1732.9 1793.5,1732.9 1793.8,1732.9 1794.0,1732.9 1794.2,1732.9 1794.5,1732.9 1794.8,1732.9 1795.0,1732.9 1795.2,1732.9 1795.5,1732.9 1795.8,1732.9 1796.0,1733.0 1796.2,1733.0 1796.5,1733.0 1796.8,1733.0 1797.0,1733.0 1797.2,1733.0 1797.5,1733.0 1797.8,1733.0 1798.0,1733.0 1798.2,1733.0 1798.5,1733.0 1798.8,1733.0 1799.0,1733.0 1799.2,1733.0 1799.5,1733.0 1799.8,1733.0 1800.0,1733.0 1800.2,1733.0 1800.5,1733.0 1800.8,1733.0 1801.0,1733.0 1801.2,1733.0 1801.5,1733.0 1801.8,1733.0 1802.0,1733.0 1802.2,1733.0 1802.5,1733.0 1802.8,1733.0 1803.0,1733.0 1803.2,1733.0 1803.5,1733.1 1803.8,1733.1 1804.0,1733.1 1804.2,1733.1 1804.5,1733.1 1804.8,1733.1 1805.0,1733.1 1805.2,1733.1 1805.5,1733.1 1805.8,1733.1 1806.0,1733.1 1806.2,1733.1 1806.5,1733.1 1806.8,1733.1 1807.0,1733.1 1807.2,1733.1 1807.5,1733.1 1807.8,1733.1 1808.0,1733.1 1808.2,1733.1 1808.5,1733.1 1808.8,1733.1 1809.0,1733.1 1809.2,1733.1 1809.5,1733.1 1809.8,1733.1 1810.0,1733.1 1810.2,1733.1 1810.5,1733.1 1810.8,1733.1 1811.0,1733.1 1811.2,1733.1 1811.5,1733.1 1811.8,1733.1 1812.0,1733.1 1812.2,1733.1 1812.5,1733.1 1812.8,1733.1 1813.0,1733.1 1813.2,1733.1 1813.5,1733.1 1813.8,1733.1 1814.0,1733.1 1814.2,1733.1 1814.5,1733.1 1814.8,1733.1 1815.0,1733.2 1815.2,1733.2 1815.5,1733.2 1815.8,1733.2 1816.0,1733.2 1816.2,1733.2 1816.5,1733.2 1816.8,1733.2 1817.0,1733.2 1817.2,1733.2 1817.5,1733.2 1817.8,1733.2 1818.0,1733.2 1818.2,1733.2 1818.5,1733.2 1818.8,1733.2 1819.0,1733.2 1819.2,1733.2 1819.5,1733.2 1819.8,1733.2 1820.0,1733.2 1820.2,1733.2 1820.5,1733.2 1820.8,1733.2 1821.0,1733.2 1821.2,1733.2 1821.5,1733.2 1821.8,1733.2 1822.0,1733.2 1822.2,1733.2 1822.5,1733.2 1822.8,1733.2 1823.0,1733.2 1823.2,1733.2 1823.5,1733.2 1823.8,1733.2 1824.0,1733.2 1824.2,1733.2 1824.5,1733.2 1824.8,1733.2 1825.0,1733.2 1825.2,1733.2 1825.5,1733.2 1825.8,1733.2 1826.0,1733.2 1826.2,1733.2 1826.5,1733.2 1826.8,1733.2 1827.0,1733.2 1827.2,1733.2 1827.5,1733.2 1827.8,1733.2 1828.0,1733.2 1828.2,1733.2 1828.5,1733.2 1828.8,1733.2 1829.0,1733.2 1829.2,1733.2 1829.5,1733.2 1829.8,1733.2 1830.0,1733.2 1830.2,1733.2 1830.5,1733.2 1830.8,1733.2 1831.0,1733.2 1831.2,1733.2 1831.5,1733.2 1831.8,1733.2 1832.0,1733.2 1832.2,1733.2 1832.5,1733.2 1832.8,1733.2 1833.0,1733.2 1833.2,1733.2 1833.5,1733.2 1833.8,1733.2 1834.0,1733.2 1834.2,1733.2 1834.5,1733.2 1834.8,1733.2 1835.0,1733.2 1835.2,1733.2 1835.5,1733.2 1835.8,1733.2 1836.0,1733.2 1836.2,1733.2 1836.5,1733.2 1836.8,1733.2 1837.0,1733.3 1837.2,1733.3 1837.5,1733.3 1837.8,1733.3 1838.0,1733.3 1838.2,1733.3 1838.5,1733.3 1838.8,1733.3 1839.0,1733.3 1839.2,1733.3 1839.5,1733.3 1839.8,1733.3 1840.0,1733.3 1840.2,1733.3 1840.5,1733.3 1840.8,1733.3 1841.0,1733.3 1841.2,1733.3 1841.5,1733.3 1841.8,1733.3 1842.0,1733.3 1842.2,1733.3 1842.5,1733.3 1842.8,1733.3 1843.0,1733.3 1843.2,1733.3 1843.5,1733.3 1843.8,1733.3 1844.0,1733.3 1844.2,1733.3 1844.5,1733.3 1844.8,1733.3 1845.0,1733.3 1845.2,1733.3 1845.5,1733.3 1845.8,1733.3 1846.0,1733.3 1846.2,1733.3 1846.5,1733.3 1846.8,1733.3 1847.0,1733.3 1847.2,1733.3 1847.5,1733.3 1847.8,1733.3 1848.0,1733.3 1848.2,1733.3 1848.5,1733.3 1848.8,1733.3 1849.0,1733.3 1849.2,1733.3 1849.5,1733.3 1849.8,1733.3 1850.0,1733.3 1850.2,1733.3 1850.5,1733.3 1850.8,1733.3 1851.0,1733.3 1851.2,1733.3 1851.5,1733.3 1851.8,1733.3 1852.0,1733.3 1852.2,1733.3 1852.5,1733.3 1852.8,1733.3 1853.0,1733.3 1853.2,1733.3 1853.5,1733.3 1853.8,1733.3 1854.0,1733.3 1854.2,1733.3 1854.5,1733.3 1854.8,1733.3 1855.0,1733.3 1855.2,1733.3 1855.5,1733.3 1855.8,1733.3 1856.0,1733.3 1856.2,1733.3 1856.5,1733.3 1856.8,1733.3 1857.0,1733.3 1857.2,1733.3 1857.5,1733.3 1857.8,1733.3 1858.0,1733.3 1858.2,1733.3 1858.5,1733.3 1858.8,1733.3 1859.0,1733.3 1859.2,1733.3 1859.5,1733.3 1859.8,1733.3 1860.0,1733.3 1860.2,1733.3 1860.5,1733.3 1860.8,1733.3 1861.0,1733.3 1861.2,1733.3 1861.5,1733.3 1861.8,1733.3 1862.0,1733.3 1862.2,1733.3 1862.5,1733.3 1862.8,1733.3 1863.0,1733.3 1863.2,1733.3 1863.5,1733.3 1863.8,1733.3 1864.0,1733.3 1864.2,1733.3 1864.5,1733.3 1864.8,1733.3 1865.0,1733.3 1865.2,1733.3 1865.5,1733.3 1865.8,1733.3 1866.0,1733.3 1866.2,1733.3 1866.5,1733.3 1866.8,1733.3 1867.0,1733.3 1867.2,1733.3 1867.5,1733.3 1867.8,1733.3 1868.0,1733.3 1868.2,1733.3 1868.5,1733.3 1868.8,1733.3 1869.0,1733.3 1869.2,1733.3 1869.5,1733.3 1869.8,1733.3 1870.0,1733.3 1886.0,1733.4" fill="none" stroke="#ff0000" stroke-width="5.3" stroke-linejoin="miter" stroke-miterlimit="4" /><path d="M1562.0,1735.5 L1566.9,1733.5 L1568.2,1724.0 L1570.2,1715.0 L1570.2,1681.0 L1571.5,1660.0 L1573.0,1640.0 L1574.2,1606.0 L1580.0,1605.8 L1580.5,1609.0 L1581.5,1607.0 L1586.8,1607.0 L1587.5,1665.0 L1588.0,1700.0 L1590.7,1712.0 L1591.5,1725.0 L1594.7,1729.0 L1598.0,1735.5Z M1576.2,1681.0 L1581.8,1681.0 L1581.8,1736.0 L1576.2,1736.0Z" fill="#ff0000" fill-rule="evenodd"/></g><path d="M821.07 34.00V1173.00" stroke="#000" stroke-width="3.6" stroke-dasharray="12.7 6.2" stroke-dashoffset="-15.20" fill="none"/><path d="M900.20 1350.50V2500.40" stroke="#000" stroke-width="3" stroke-dasharray="13.2 6.6" stroke-dashoffset="6.7" fill="none"/><rect x="289.60" y="34.00" width="1594.40" height="1139.00" fill="none" stroke="#000" stroke-width="3.7"/><path d="M289.60 1173.00V1141.00M289.60 34.00V66.00M821.07 1173.00V1141.00M821.07 34.00V66.00M1352.53 1173.00V1141.00M1352.53 34.00V66.00M1884.00 1173.00V1141.00M1884.00 34.00V66.00M555.33 1173.00V1157.00M555.33 34.00V50.00M1086.80 1173.00V1157.00M1086.80 34.00V50.00M1618.27 1173.00V1157.00M1618.27 34.00V50.00M289.60 1078.08H321.60M1884.00 1078.08H1852.00M289.60 840.79H321.60M1884.00 840.79H1852.00M289.60 603.50H321.60M1884.00 603.50H1852.00M289.60 366.21H321.60M1884.00 366.21H1852.00M289.60 128.92H321.60M1884.00 128.92H1852.00M289.60 959.44H305.60M1884.00 959.44H1868.00M289.60 722.15H305.60M1884.00 722.15H1868.00M289.60 484.85H305.60M1884.00 484.85H1868.00M289.60 247.56H305.60M1884.00 247.56H1868.00" fill="none" stroke="#000" stroke-width="3.7"/><rect x="243.00" y="1350.50" width="1643.00" height="1149.90" fill="none" stroke="#000" stroke-width="3.5"/><path d="M243.00 2500.40V2468.40M243.00 1350.50V1382.50M571.60 2500.40V2468.40M571.60 1350.50V1382.50M900.20 2500.40V2468.40M900.20 1350.50V1382.50M1228.80 2500.40V2468.40M1228.80 1350.50V1382.50M1557.40 2500.40V2468.40M1557.40 1350.50V1382.50M1886.00 2500.40V2468.40M1886.00 1350.50V1382.50M407.30 2500.40V2484.40M407.30 1350.50V1366.50M735.90 2500.40V2484.40M735.90 1350.50V1366.50M1064.50 2500.40V2484.40M1064.50 1350.50V1366.50M1393.10 2500.40V2484.40M1393.10 1350.50V1366.50M1721.70 2500.40V2484.40M1721.70 1350.50V1366.50M243.00 2500.40H275.00M1886.00 2500.40H1854.00M243.00 2244.87H275.00M1886.00 2244.87H1854.00M243.00 1989.33H275.00M1886.00 1989.33H1854.00M243.00 1733.80H275.00M1886.00 1733.80H1854.00M243.00 1478.27H275.00M1886.00 1478.27H1854.00M243.00 2372.63H259.00M1886.00 2372.63H1870.00M243.00 2117.10H259.00M1886.00 2117.10H1870.00M243.00 1861.57H259.00M1886.00 1861.57H1870.00M243.00 1606.03H259.00M1886.00 1606.03H1870.00" fill="none" stroke="#000" stroke-width="3.5"/><defs><clipPath id="cia"><rect x="1070.5" y="521.5" width="732.3" height="537.3"/></clipPath><clipPath id="cib"><rect x="1064.5" y="1842.5" width="740.3" height="543.0"/></clipPath></defs><g clip-path="url(#cia)"><polyline points="1072.0,525.0 1200.0,525.5 1222.0,526.5 1240.8,529.7 1280.3,531.3 1291.9,537.8 1298.8,544.8 1306.0,565.0 1309.2,581.9 1310.3,600.0 1311.1,635.3 1312.9,675.8 1314.7,714.6 1316.4,755.2 1319.1,785.2 1320.5,817.0 1322.0,817.0 1323.5,776.4 1327.0,750.0 1329.7,723.5 1332.3,688.2 1337.6,658.2 1342.9,635.3 1346.4,626.5 1351.7,617.6 1360.5,600.0 1366.0,584.2 1381.1,563.3 1389.2,562.2 1407.8,554.0 1420.0,543.3 1429.5,536.2 1443.8,548.0 1479.5,535.0 1491.4,544.5 1503.3,535.0 1515.2,544.5 1528.3,533.8 1540.2,544.5 1560.4,533.8 1574.7,526.7 1598.5,532.6 1612.7,538.6 1624.6,531.4 1636.5,537.4 1648.4,531.4 1661.5,537.4 1681.7,532.6 1707.9,526.7 1734.1,529.0 1746.0,531.4 1757.9,526.7 1781.7,530.2 1800.7,523.0" fill="none" stroke="#ff0000" stroke-width="4.9" stroke-linejoin="miter" stroke-miterlimit="4" /><polyline points="1072.0,525.0 1200.0,525.0 1224.6,526.2 1245.5,537.8 1261.7,540.1 1282.6,551.7 1286.0,565.6 1289.5,586.5 1291.7,603.5 1294.4,626.5 1297.0,665.3 1298.8,705.8 1300.6,744.6 1301.4,783.4 1303.2,822.2 1304.1,861.0 1305.9,899.8 1307.6,940.4 1308.5,970.0 1309.4,935.1 1311.1,896.3 1312.9,857.5 1313.8,818.7 1315.6,780.0 1316.4,741.0 1318.2,700.5 1319.0,661.7 1320.0,633.5 1321.7,612.3 1326.6,598.1 1333.6,572.6 1345.2,561.0 1363.7,549.4 1377.6,540.1 1396.2,540.1 1414.7,534.3 1420.0,532.6 1451.0,533.8 1474.7,531.4 1489.0,537.4 1503.3,530.2 1524.7,529.0 1548.5,532.6 1562.8,531.4 1577.0,525.5 1598.5,532.6 1622.3,529.0 1636.5,532.6 1650.8,526.7 1674.6,526.7 1696.0,526.7 1729.3,526.7 1753.1,525.5 1776.9,525.5 1800.7,521.9" fill="none" stroke="#0000ff" stroke-width="5.1" stroke-linejoin="miter" stroke-miterlimit="4" stroke-dasharray="24.7 14.3"/><polyline points="1071.6,528.5 1106.4,526.2 1152.7,527.4 1222.3,525.0 1303.4,526.2 1315.0,529.7 1322.0,533.2 1331.3,554.0 1345.2,568.0 1354.5,572.6 1370.7,586.5 1382.3,591.1 1393.9,576.1 1405.5,595.8 1420.0,565.9 1429.5,537.4 1443.8,558.8 1455.7,558.8 1479.5,536.2 1491.4,565.9 1503.3,535.0 1515.2,552.8 1528.3,533.8 1540.2,554.0 1553.3,554.0 1562.8,544.5 1574.7,529.0 1586.6,529.0 1612.7,548.0 1624.6,532.6 1636.5,546.9 1648.4,532.6 1661.5,546.9 1673.4,533.8 1685.3,546.9 1707.9,529.0 1722.2,526.7 1734.1,536.2 1746.0,542.1 1757.9,529.0 1769.8,526.7 1781.7,539.7 1800.7,521.9" fill="none" stroke="#000000" stroke-width="4.4" stroke-linejoin="miter" stroke-miterlimit="4" /><polyline points="1072.0,525.0 1300.0,525.0 1310.4,526.2 1322.0,533.2 1342.9,547.1 1361.4,563.3 1373.0,572.6 1384.6,584.2 1396.2,600.4 1405.5,619.0 1420.0,619.5 1429.5,618.3 1443.8,610.0 1458.0,612.3 1471.2,601.6 1491.4,590.9 1500.9,605.2 1516.4,587.3 1530.6,599.2 1550.9,621.8 1558.0,614.7 1574.7,577.8 1584.2,562.3 1593.7,564.7 1603.2,575.4 1610.4,579.0 1622.3,592.1 1637.7,575.4 1649.6,590.9 1662.7,580.2 1675.8,594.5 1693.6,588.5 1705.5,569.5 1716.2,556.4 1728.1,563.5 1736.5,574.2 1744.8,575.4 1757.9,567.1 1781.7,563.5 1793.6,551.6 1800.7,531.4" fill="none" stroke="#008b00" stroke-width="5.1" stroke-linejoin="miter" stroke-miterlimit="4" stroke-dasharray="24.7 14.7 5.5 14.7"/></g><rect x="1070.50" y="521.50" width="732.30" height="537.30" fill="none" stroke="#000" stroke-width="3"/><path d="M1070.50 1058.80V1026.80M1070.50 521.50V553.50M1314.60 1058.80V1026.80M1314.60 521.50V553.50M1558.70 1058.80V1026.80M1558.70 521.50V553.50M1802.80 1058.80V1026.80M1802.80 521.50V553.50M1192.55 1058.80V1042.80M1192.55 521.50V537.50M1436.65 1058.80V1042.80M1436.65 521.50V537.50M1680.75 1058.80V1042.80M1680.75 521.50V537.50M1070.50 1058.80H1102.50M1802.80 1058.80H1770.80M1070.50 790.15H1102.50M1802.80 790.15H1770.80M1070.50 521.50H1102.50M1802.80 521.50H1770.80M1070.50 924.47H1086.50M1802.80 924.47H1786.80M1070.50 655.83H1086.50M1802.80 655.83H1786.80" fill="none" stroke="#000" stroke-width="3"/><g clip-path="url(#cib)"><polyline points="1066.0,1847.5 1089.0,1848.7 1102.7,1849.5 1128.3,1853.8 1140.3,1860.6 1155.7,1879.4 1159.1,1894.8 1164.2,1917.0 1169.3,1954.6 1170.2,1971.7 1171.0,1997.3 1173.1,2118.5 1174.7,2251.2 1175.8,2386.0 1196.0,2386.0 1198.1,2251.2 1199.7,2118.5 1202.5,2010.0 1203.5,1990.5 1204.4,1968.3 1206.1,1949.5 1210.3,1928.1 1213.8,1903.3 1217.2,1889.7 1222.3,1874.3 1234.3,1858.9 1253.0,1852.1 1275.3,1847.8 1299.2,1847.0 1361.6,1845.6 1500.0,1845.5 1550.0,1846.0 1600.0,1848.0 1650.0,1847.0 1700.0,1848.0 1750.0,1846.5 1803.0,1846.0" fill="none" stroke="#0000ff" stroke-width="5.1" stroke-linejoin="miter" stroke-miterlimit="4" stroke-dasharray="24.7 14.3"/><polyline points="1066.0,1846.1 1130.0,1847.0 1162.5,1850.4 1179.6,1855.5 1193.3,1865.8 1203.5,1879.4 1208.6,1893.1 1212.0,1911.9 1215.5,1930.7 1218.9,1954.6 1221.4,1980.2 1223.6,2065.4 1226.2,2198.1 1228.0,2386.0 1246.5,2386.0 1247.5,2198.1 1250.1,2065.4 1253.0,2000.0 1254.8,1954.6 1258.2,1925.5 1262.4,1894.8 1268.4,1877.7 1278.7,1864.0 1295.8,1853.8 1316.3,1848.7 1340.0,1847.0 1409.3,1846.7 1417.3,1853.0 1422.6,1884.9 1426.3,1930.0 1430.6,1884.9 1435.9,1853.0 1446.5,1846.7 1540.0,1846.5 1560.0,1849.0 1580.0,1848.0 1600.0,1850.0 1620.0,1848.0 1650.0,1850.0 1680.0,1848.0 1700.0,1850.0 1730.0,1848.5 1760.0,1850.0 1790.0,1849.0 1803.0,1851.0" fill="none" stroke="#ff0000" stroke-width="5.1" stroke-linejoin="miter" stroke-miterlimit="4" /><polyline points="1066.0,1846.0 1205.2,1847.0 1222.3,1850.4 1244.5,1858.9 1253.0,1872.6 1261.6,1893.1 1265.0,1910.2 1267.6,1937.5 1270.1,1954.6 1272.7,1988.8 1275.6,2118.5 1277.7,2251.2 1279.0,2386.0 1295.5,2386.0 1296.8,2251.2 1298.9,2118.5 1300.9,1988.8 1304.3,1954.6 1306.9,1930.7 1309.4,1908.5 1312.8,1889.7 1321.4,1870.9 1333.3,1857.2 1361.6,1851.0 1414.7,1847.0 1535.0,1847.0 1542.0,1855.4 1551.7,1874.9 1554.7,1915.9 1556.6,1933.5 1559.5,1970.6 1562.0,2040.0 1565.9,2150.3 1568.6,2065.4 1573.9,2012.3 1577.1,2005.7 1582.0,1977.4 1584.0,1947.1 1586.9,1917.9 1588.8,1898.3 1593.7,1879.8 1600.0,1880.0 1609.3,1900.0 1610.3,1866.1 1617.7,1859.3 1626.9,1869.0 1636.7,1866.1 1644.5,1865.0 1656.2,1855.4 1669.9,1854.4 1692.3,1860.3 1705.0,1853.4 1722.6,1849.5 1743.1,1864.2 1748.0,1853.4 1769.4,1848.5 1787.0,1851.5 1803.0,1849.0" fill="none" stroke="#008b00" stroke-width="5.1" stroke-linejoin="miter" stroke-miterlimit="4" stroke-dasharray="24.7 14.7 5.5 14.7"/><polyline points="1066.0,1844.6 1545.0,1844.6 1550.8,1847.6 1558.6,1861.2 1565.4,1910.0 1575.2,1902.2 1581.6,1863.2 1587.9,1912.0 1596.6,1951.0 1602.5,1869.0 1618.1,1951.0 1633.7,1869.0 1640.6,1939.3 1647.4,1875.0 1662.0,1941.3 1668.9,1907.1 1685.5,1892.5 1691.3,1869.0 1700.1,1875.9 1707.0,1900.3 1713.8,1984.2 1720.6,1894.4 1729.4,1890.5 1743.1,1862.2 1749.9,1884.7 1757.7,1936.4 1766.5,1933.5 1772.4,1871.0 1779.2,1883.7 1789.0,1880.8 1794.8,1859.3 1802.6,1888.6" fill="none" stroke="#000000" stroke-width="4.5" stroke-linejoin="miter" stroke-miterlimit="4" /></g><rect x="1064.50" y="1842.50" width="740.30" height="543.00" fill="none" stroke="#000" stroke-width="3"/><path d="M1064.50 2385.50V2353.50M1064.50 1842.50V1874.50M1212.56 2385.50V2353.50M1212.56 1842.50V1874.50M1508.68 2385.50V2353.50M1508.68 1842.50V1874.50M1804.80 2385.50V2353.50M1804.80 1842.50V1874.50M1360.62 2385.50V2369.50M1360.62 1842.50V1858.50M1656.74 2385.50V2369.50M1656.74 1842.50V1858.50M1064.50 2385.50H1096.50M1804.80 2385.50H1772.80M1064.50 2114.00H1096.50M1804.80 2114.00H1772.80M1064.50 1842.50H1096.50M1804.80 1842.50H1772.80M1064.50 2249.75H1080.50M1804.80 2249.75H1788.80M1064.50 1978.25H1080.50M1804.80 1978.25H1788.80" fill="none" stroke="#000" stroke-width="3"/><text transform="translate(1031.56,537.06) scale(1.0000,1)" font-size="47.50" >0</text><text transform="translate(1018.62,805.83) scale(0.9500,1)" font-size="47.50" >-1</text><text transform="translate(1018.40,1074.53) scale(0.9500,1)" font-size="47.50" >-2</text><text transform="translate(1034.08,1106.36) scale(0.9700,1)" font-size="47.50" >-1,5</text><text transform="translate(1295.94,1106.36) scale(0.9700,1)" font-size="47.50" >-1</text><text transform="translate(1522.28,1106.59) scale(0.9700,1)" font-size="47.50" >-0,5</text><text transform="translate(1790.33,1106.59) scale(1.0500,1)" font-size="47.50" >0</text><text transform="translate(1386.33,1136.94) scale(1.0559,1)" font-size="57.47" >&#969;</text><text transform="translate(1439.85,1138.49) scale(0.9767,1)" font-size="53.16" >[t]</text><text transform="translate(1026.06,1858.06) scale(1.0000,1)" font-size="47.50" >0</text><text transform="translate(1013.12,2129.68) scale(0.9500,1)" font-size="47.50" >-1</text><text transform="translate(1012.90,2401.23) scale(0.9500,1)" font-size="47.50" >-2</text><text transform="translate(1193.91,2433.60) scale(0.9700,1)" font-size="47.50" >-5</text><text transform="translate(1489.49,2433.76) scale(0.9700,1)" font-size="47.50" >-4</text><text transform="translate(1786.15,2433.95) scale(0.9700,1)" font-size="47.50" >-3</text><text transform="translate(1383.94,2464.34) scale(1.1019,1)" font-size="57.26" >&#969;</text><text transform="translate(1438.15,2464.99) scale(0.9507,1)" font-size="54.61" >[t]</text><text transform="translate(185.77,147.62) scale(0.9701,1)" font-size="74.00" >0,5</text><text transform="translate(238.03,390.98) scale(1.0522,1)" font-size="74.00" >0</text><text transform="translate(162.25,622.52) scale(0.9668,1)" font-size="74.00" >-0,5</text><text transform="translate(220.22,865.80) scale(0.9403,1)" font-size="74.00" >-1</text><text transform="translate(162.15,1096.92) scale(0.9650,1)" font-size="74.00" >-1,5</text><text transform="translate(260.72,1238.28) scale(0.9749,1)" font-size="74.00" >-5</text><text transform="translate(801.04,1239.28) scale(1.1223,1)" font-size="74.00" >0</text><text transform="translate(1333.38,1239.28) scale(1.0735,1)" font-size="74.00" >5</text><text transform="translate(1846.26,1239.28) scale(1.0359,1)" font-size="74.00" >10</text><text transform="translate(190.16,1502.80) scale(1.1192,1)" font-size="74.00" >2</text><text transform="translate(190.93,1758.18) scale(1.0554,1)" font-size="74.00" >0</text><text transform="translate(167.14,2013.83) scale(1.0399,1)" font-size="74.00" >-2</text><text transform="translate(167.29,2269.22) scale(0.9872,1)" font-size="74.00" >-4</text><text transform="translate(167.24,2524.54) scale(1.0054,1)" font-size="74.00" >-6</text><text transform="translate(193.92,2567.08) scale(1.0131,1)" font-size="74.00" >-10</text><text transform="translate(543.11,2567.08) scale(0.9445,1)" font-size="74.00" >-5</text><text transform="translate(882.62,2567.08) scale(1.0235,1)" font-size="74.00" >0</text><text transform="translate(1208.98,2567.08) scale(1.0735,1)" font-size="74.00" >5</text><text transform="translate(1517.96,2567.08) scale(1.0359,1)" font-size="74.00" >10</text><text transform="translate(1853.68,2567.08) scale(0.9256,1)" font-size="74.00" >15</text><text transform="translate(1004.99,1317.73) scale(1.0051,1)" font-size="99.47" >&#969;</text><text transform="translate(1092.54,1319.87) scale(0.9757,1)" font-size="89.17" >[t]</text><text transform="translate(982.14,2646.11) scale(1.0042,1)" font-size="100.94" >&#969;</text><text transform="translate(1069.37,2648.11) scale(0.9812,1)" font-size="91.10" >[t]</text><text transform="translate(98.00,736.87) rotate(-90) scale(0.9627,1)" font-size="88.88" >P</text><text transform="translate(133.52,690.47) rotate(-90) scale(1.0377,1)" font-size="63.33" >q=0</text><text transform="translate(95.37,587.33) rotate(-90) scale(1.0485,1)" font-size="80.95" >(</text><text transform="translate(95.37,498.34) rotate(-90) scale(1.0485,1)" font-size="80.95" >)</text><text transform="translate(98.06,558.90) rotate(-90) scale(0.9845,1)" font-size="96.13" >&#969;</text><text transform="translate(99.70,2064.11) rotate(-90) scale(1.1004,1)" font-size="91.94" >P</text><text transform="translate(136.48,2010.66) rotate(-90) scale(0.9920,1)" font-size="65.84" >q=0</text><text transform="translate(97.63,1908.47) rotate(-90) scale(1.0255,1)" font-size="85.80" >(</text><text transform="translate(97.63,1814.34) rotate(-90) scale(1.0255,1)" font-size="85.80" >)</text><text transform="translate(100.12,1877.55) rotate(-90) scale(1.0092,1)" font-size="100.10" >&#969;</text><text transform="translate(351.56,143.78) scale(1.0607,1)" font-size="87.02" >a)</text><text transform="translate(488.96,144.92) scale(1.0301,1)" font-size="89.61" >d-wave</text><text transform="translate(338.80,1459.17) scale(1.0657,1)" font-size="86.57" >b)</text><text transform="translate(482.58,1462.11) scale(1.0198,1)" font-size="90.82" >extended s-wave</text><path d="M323.8 937H389.6" stroke="#ff0000" stroke-width="6"/><path d="M323.8 1002.3H389.6" stroke="#0000ff" stroke-width="5.5" stroke-dasharray="24.7 14.3"/><path d="M323.8 1062H389.6" stroke="#000" stroke-width="6"/><path d="M323.8 1121.6H389.6" stroke="#008b00" stroke-width="6" stroke-dasharray="24.7 15.1 5.5 14.4"/><text transform="translate(421.91,948.24) scale(1.0370,1)" font-size="52.66" >TDGA (g=1)</text><text transform="translate(421.91,1013.64) scale(1.0370,1)" font-size="52.66" >TDGA (g=0)</text><text transform="translate(421.76,1078.66) scale(1.0370,1)" font-size="52.66" >GA</text><text transform="translate(421.91,1133.24) scale(1.0370,1)" font-size="52.66" >TDGA (g=2)</text></svg>
</body></html>
